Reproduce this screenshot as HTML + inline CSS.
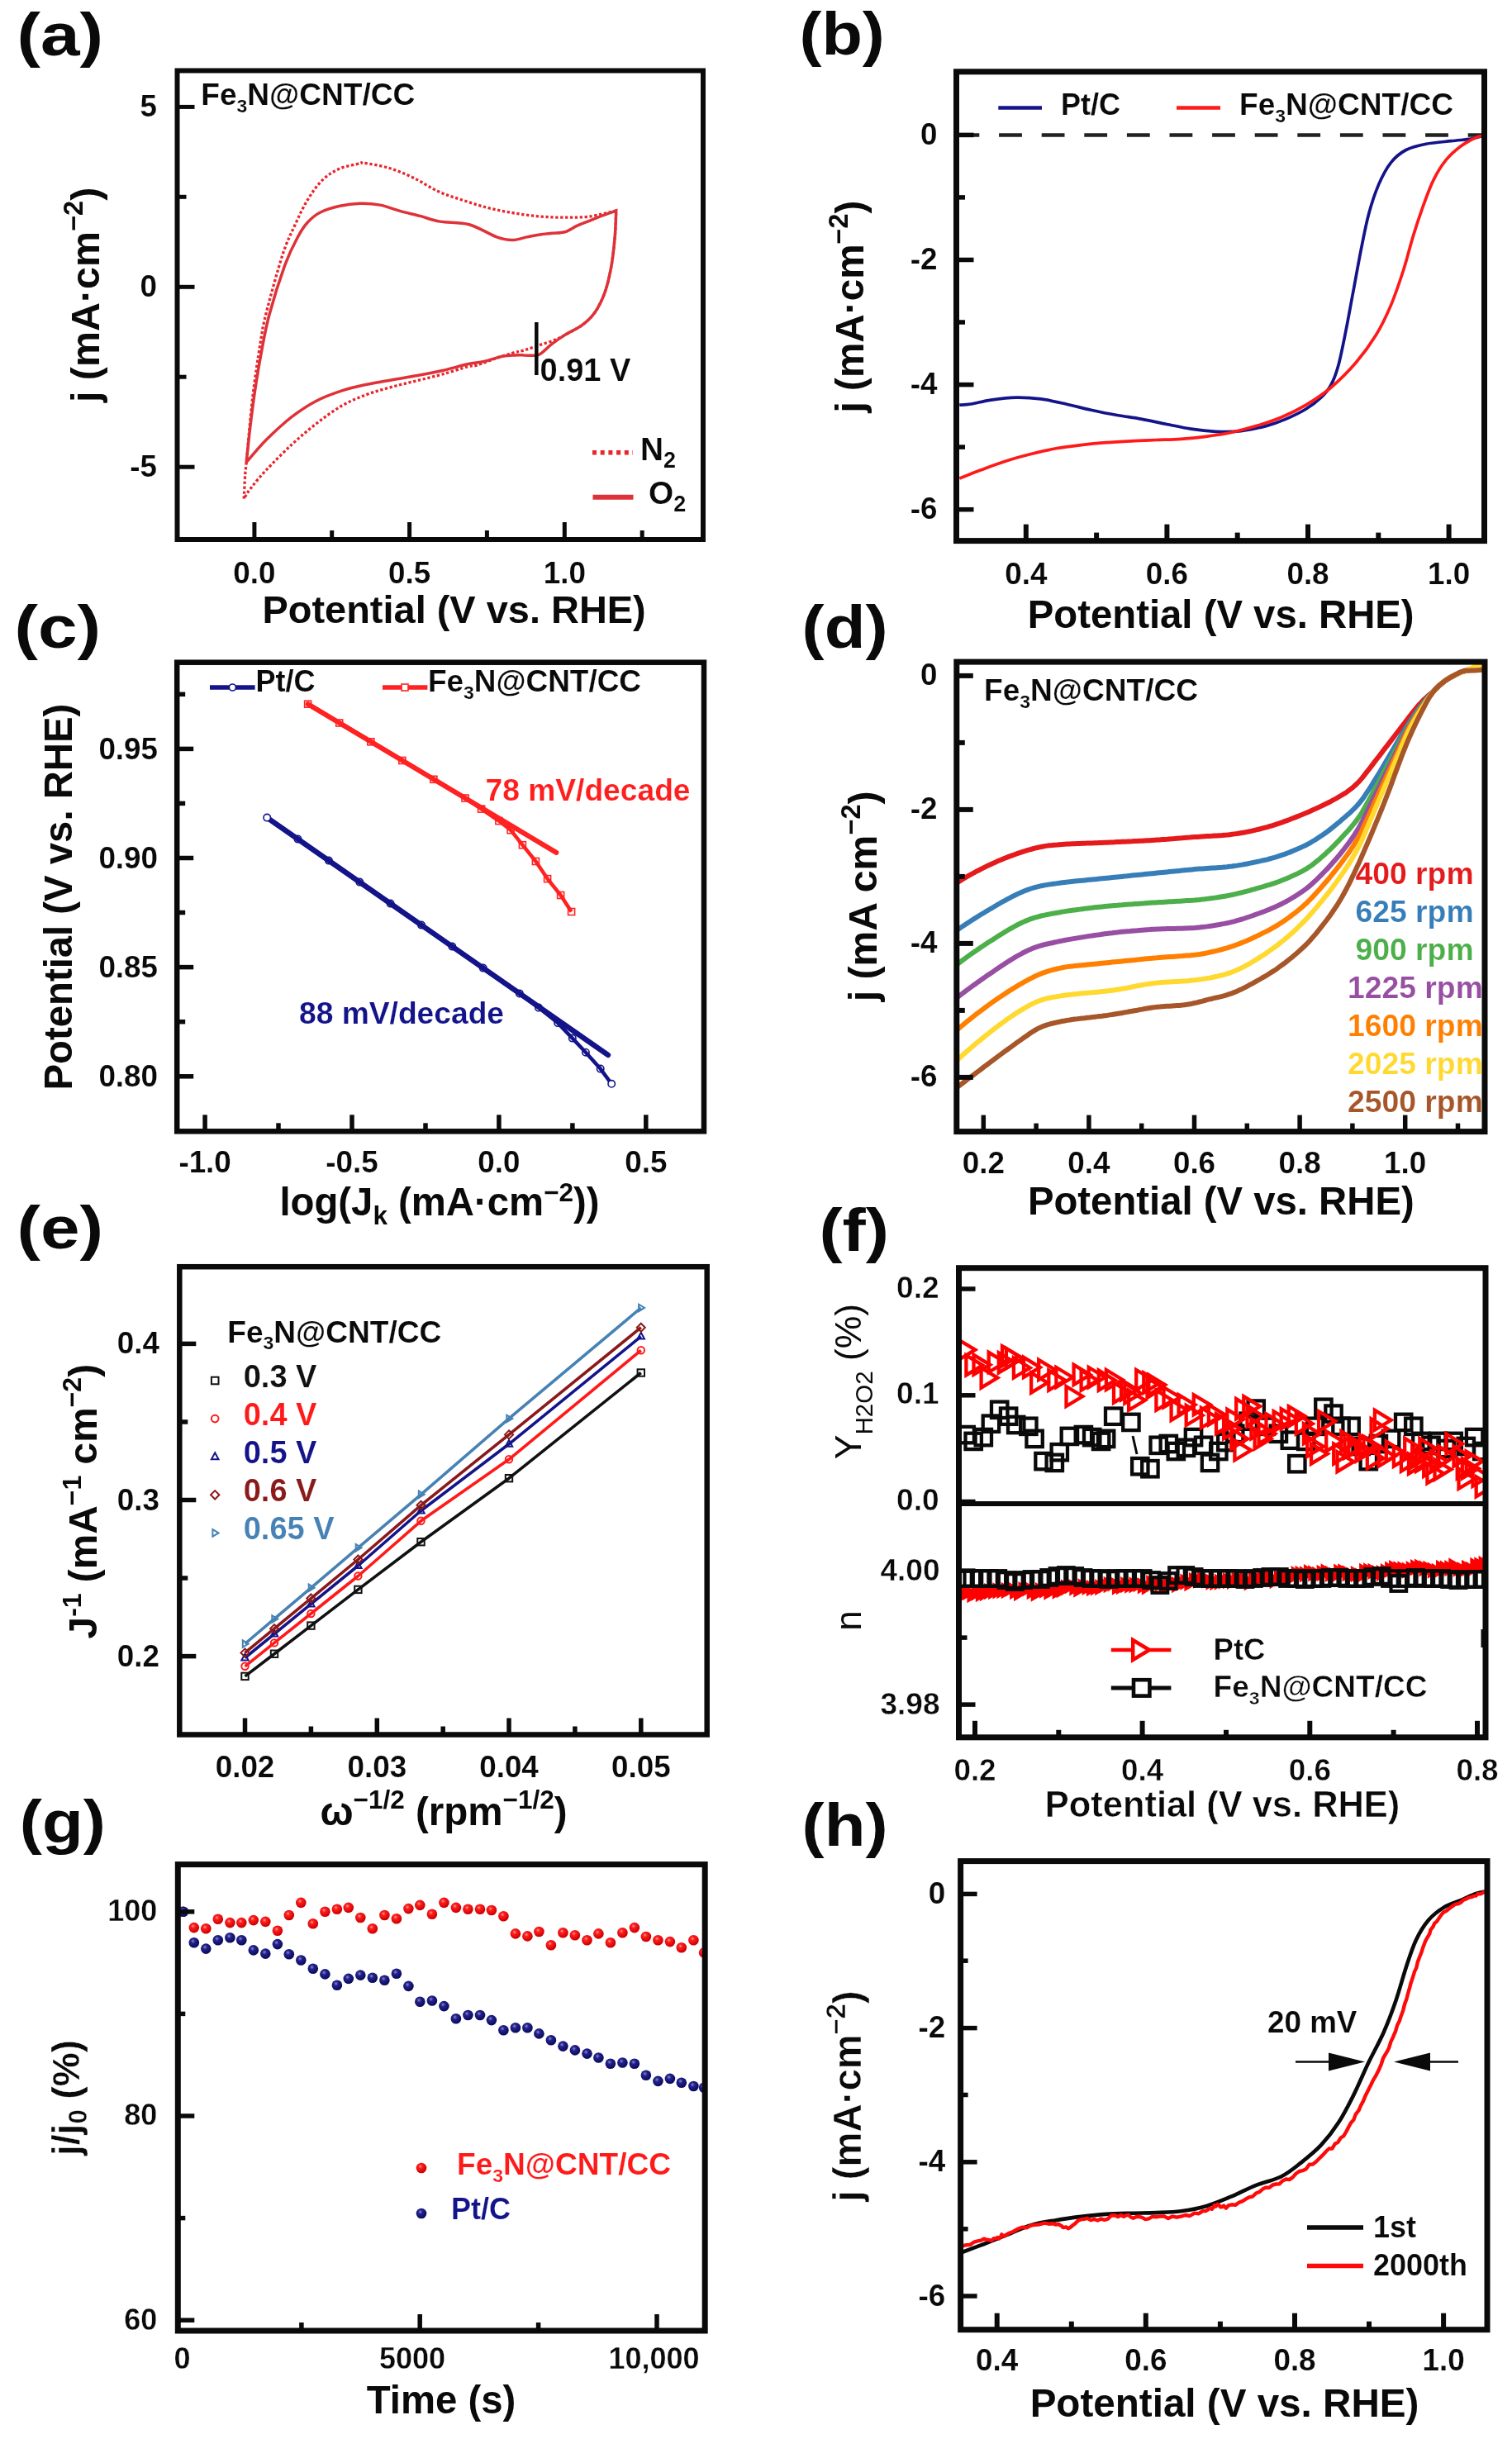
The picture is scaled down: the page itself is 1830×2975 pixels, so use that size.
<!DOCTYPE html>
<html><head><meta charset="utf-8"><title>Figure</title>
<style>
html,body{margin:0;padding:0;background:#fff;}
svg{display:block;filter:blur(0.75px);}
svg text{font-family:"Liberation Sans",sans-serif;font-weight:bold;}
</style></head><body>
<svg width="1830" height="2975" viewBox="0 0 1830 2975">
<defs>
<radialGradient id="gr" cx="0.4" cy="0.35" r="0.6"><stop offset="0" stop-color="#ffa0a0"/><stop offset="0.3" stop-color="#ff2020"/><stop offset="1" stop-color="#d00000"/></radialGradient>
<radialGradient id="gb" cx="0.4" cy="0.35" r="0.6"><stop offset="0" stop-color="#8a8ad0"/><stop offset="0.35" stop-color="#22228c"/><stop offset="1" stop-color="#0c0c60"/></radialGradient>
</defs>
<rect width="1830" height="2975" fill="#fff"/>
<text x="20.6" y="66.8" font-size="72" text-anchor="start" fill="#0a0a0a" textLength="104.5" lengthAdjust="spacingAndGlyphs" >(a)</text>
<path d="M295.2 603.6 C295.4 598.8 296.2 582.1 296.7 574.7 C297.2 567.4 296.7 575.2 298.2 559.5 C299.7 543.8 303 504.2 305.8 480.4 C308.6 456.6 312.2 433.2 314.9 416.5 C317.6 399.8 317.4 398 321.9 380 C326.4 362 336.1 326.6 341.9 308.6 C347.8 290.7 352 283.4 357 272.3 C362.1 261.2 366.6 251.1 372.2 242.1 C377.7 233 383.8 224.2 390.3 217.9 C396.9 211.5 403.9 207.3 411.5 203.9 C419.1 200.6 431 199 435.7 197.9 C440.5 196.8 434.2 196.3 440 197.2 C445.8 198 460.3 200.2 470.4 203.2 C480.6 206.3 490.7 210.6 500.8 215.4 C511 220.2 521.1 227.6 531.3 232.1 C541.4 236.7 551.6 239.5 561.7 242.8 C571.8 246.1 582 249.4 592.1 251.9 C602.3 254.5 612.4 256.3 622.5 258 C632.7 259.7 642.8 261.1 653 262 C663.1 262.8 673.2 263.2 683.4 263.2 C693.5 263.2 703.4 263.3 713.8 262 C724.2 260.6 740.4 256.1 745.7 255 L745.7 255 C745.5 260.3 745.2 275.5 744.2 286.9 C743.2 298.3 741.7 312.3 739.7 323.4 C737.6 334.6 735.4 344.7 732.1 353.8 C728.8 363 724.5 371.6 719.9 378.2 C715.3 384.8 710.8 388.8 704.7 393.4 C698.6 397.9 689 402.5 683.4 405.6 C677.8 408.6 676.3 409.6 671.2 411.6 C666.1 413.7 659 415.7 653 417.7 C646.9 419.7 640.3 422.2 634.7 423.8 C629.1 425.4 625.6 425.7 619.5 427.5 C613.4 429.2 605.3 432 598.2 434.5 C591.1 436.9 582.3 440.5 576.9 442.1 C571.5 443.6 572.8 442.1 565.9 443.9 C559 445.7 545.6 450.2 535.5 453 C525.4 455.8 515.2 458.1 505.1 460.6 C494.9 463.2 484.8 465.4 474.7 468.2 C464.5 471 454.4 473.6 444.2 477.4 C434.1 481.2 423.9 485.2 413.8 491 C403.7 496.9 393.5 504.5 383.4 512.3 C373.2 520.2 363.1 528.8 353 538.2 C342.8 547.6 330.7 560 322.5 568.6 C314.4 577.2 308.8 584.1 304.3 589.9 C299.7 595.7 296.7 601.3 295.2 603.6" fill="none" stroke="#e8262c" stroke-width="3.3" stroke-dasharray="3.3 2.6" stroke-linejoin="miter"/>
<path d="M298.2 559.5 C299 552.4 301 531.6 302.8 516.9 C304.5 502.2 306.6 486.5 308.8 471.3 C311.1 456.1 313.6 440.8 316.5 425.6 C319.3 410.4 321.4 397.5 326.2 380 C330.9 362.5 339.3 336.2 344.9 320.7 C350.6 305.3 355.5 296 360.1 287.5 C364.6 278.9 367.6 274.3 372.2 269.3 C376.7 264.3 380.7 260.5 387.3 257.2 C393.9 253.9 403.4 251.1 411.5 249.3 C419.6 247.5 427.6 246.5 435.7 246.3 C443.8 246.1 451.9 246.6 459.9 248.1 C468 249.6 476.1 253.2 484.1 255.4 C492.2 257.6 500.3 259.3 508.3 261.4 C516.4 263.5 522.6 266.4 532.5 268.1 C542.4 269.8 556.3 268.6 567.8 271.7 C579.2 274.8 592.6 283.8 601.2 286.9 C609.9 290 613.4 290.6 619.5 290.6 C625.6 290.6 632.2 288 637.7 286.9 C643.3 285.8 647.9 284.6 653 283.9 C658 283.1 663.1 282.8 668.2 282.3 C673.2 281.8 678.3 282.3 683.4 280.8 C688.5 279.3 693.5 275.5 698.6 273.2 C703.7 270.9 708.7 269.2 713.8 267.1 C718.9 265.1 723.7 263.1 729 261 C734.3 259 743 256 745.7 255 L745.7 255 C745.5 260.3 745.2 275.5 744.2 286.9 C743.2 298.3 741.7 312.3 739.7 323.4 C737.6 334.6 735.4 344.7 732.1 353.8 C728.8 363 724.5 371.6 719.9 378.2 C715.3 384.8 710.8 388.8 704.7 393.4 C698.6 397.9 689.5 401.7 683.4 405.6 C677.3 409.4 672.7 412.7 668.2 416.2 C663.6 419.7 659.1 424.5 656 426.8 C652.9 429.2 652.9 429.7 649.3 430.2 C645.8 430.7 639.2 429.9 634.7 429.9 C630.2 429.8 627.1 429.6 622.5 429.9 C618 430.1 613.4 430.1 607.3 431.4 C601.2 432.7 592.9 435.9 586 437.5 C579.1 439.1 574.3 439 565.9 440.8 C557.5 442.7 545.6 446.2 535.5 448.5 C525.4 450.7 515.2 452.7 505.1 454.5 C494.9 456.4 484.8 457.9 474.7 459.7 C464.5 461.5 454.4 463 444.2 465.2 C434.1 467.4 423.9 469.5 413.8 472.8 C403.7 476.1 393.5 479.6 383.4 485 C373.2 490.3 363.1 496.9 353 504.7 C342.8 512.6 331.7 523 322.5 532.1 C313.4 541.2 302.3 554.9 298.2 559.5" fill="none" stroke="#de3238" stroke-width="3.5" stroke-linejoin="miter"/>
<rect x="214.5" y="85.5" width="636.5" height="567.5" fill="none" stroke="#0a0a0a" stroke-width="6"/>
<line x1="307.9" y1="653" x2="307.9" y2="632" stroke="#0a0a0a" stroke-width="5"/>
<line x1="495.6" y1="653" x2="495.6" y2="632" stroke="#0a0a0a" stroke-width="5"/>
<line x1="683.3" y1="653" x2="683.3" y2="632" stroke="#0a0a0a" stroke-width="5"/>
<line x1="401.7" y1="653" x2="401.7" y2="642" stroke="#0a0a0a" stroke-width="5"/>
<line x1="589.4" y1="653" x2="589.4" y2="642" stroke="#0a0a0a" stroke-width="5"/>
<line x1="777.2" y1="653" x2="777.2" y2="642" stroke="#0a0a0a" stroke-width="5"/>
<line x1="214.5" y1="129.4" x2="235.5" y2="129.4" stroke="#0a0a0a" stroke-width="5"/>
<line x1="214.5" y1="347.3" x2="235.5" y2="347.3" stroke="#0a0a0a" stroke-width="5"/>
<line x1="214.5" y1="565.2" x2="235.5" y2="565.2" stroke="#0a0a0a" stroke-width="5"/>
<line x1="214.5" y1="238.3" x2="225.5" y2="238.3" stroke="#0a0a0a" stroke-width="5"/>
<line x1="214.5" y1="456.2" x2="225.5" y2="456.2" stroke="#0a0a0a" stroke-width="5"/>
<text x="307.9" y="705.5" font-size="36.8" text-anchor="middle" fill="#0a0a0a" stroke="#fff" stroke-width="0.15">0.0</text>
<text x="495.6" y="705.5" font-size="36.8" text-anchor="middle" fill="#0a0a0a" stroke="#fff" stroke-width="0.15">0.5</text>
<text x="683.3" y="705.5" font-size="36.8" text-anchor="middle" fill="#0a0a0a" stroke="#fff" stroke-width="0.15">1.0</text>
<text x="190" y="140.7" font-size="36.8" text-anchor="end" fill="#0a0a0a" stroke="#fff" stroke-width="0.15">5</text>
<text x="190" y="358.6" font-size="36.8" text-anchor="end" fill="#0a0a0a" stroke="#fff" stroke-width="0.15">0</text>
<text x="190" y="576.5" font-size="36.8" text-anchor="end" fill="#0a0a0a" stroke="#fff" stroke-width="0.15">-5</text>
<text x="549.6" y="753.5" font-size="46.95" text-anchor="middle" fill="#0a0a0a" >Potential (V vs. RHE)</text>
<text transform="translate(120 356.9) rotate(-90)" font-size="48.4" text-anchor="middle" fill="#0a0a0a">j (mA·cm<tspan font-size="32.6" dy="-19.6">−2</tspan><tspan dy="19.6">)</tspan></text>
<text x="243.3" y="127.2" font-size="36.3" text-anchor="start" fill="#0a0a0a" textLength="259" lengthAdjust="spacingAndGlyphs" stroke="#fff" stroke-width="0.15">Fe<tspan font-size="22.5" dy="8.7">3</tspan><tspan dy="-8.7">N@CNT/CC</tspan></text>
<line x1="649.3" y1="390" x2="649.3" y2="454" stroke="#0a0a0a" stroke-width="4.5"/>
<text x="653.5" y="460.5" font-size="38" text-anchor="start" fill="#0a0a0a" stroke="#fff" stroke-width="0.15">0.91 V</text>
<line x1="717" y1="547.8" x2="766" y2="547.8" stroke="#e8262c" stroke-width="5.5" stroke-dasharray="5 4.7"/>
<line x1="717.5" y1="601.7" x2="766.5" y2="601.7" stroke="#de3238" stroke-width="6"/>
<text x="775" y="556.7" font-size="38.8" text-anchor="start" fill="#0a0a0a" stroke="#fff" stroke-width="0.15">N<tspan font-size="27" dy="9">2</tspan></text>
<text x="785" y="610.3" font-size="38.8" text-anchor="start" fill="#0a0a0a" stroke="#fff" stroke-width="0.15">O<tspan font-size="27" dy="9">2</tspan></text>
<text x="967.5" y="65.8" font-size="72" text-anchor="start" fill="#0a0a0a" textLength="103.3" lengthAdjust="spacingAndGlyphs" >(b)</text>
<line x1="1157.5" y1="163.4" x2="1796.5" y2="163.4" stroke="#222" stroke-width="4.5" stroke-dasharray="27.8 23.8"/>
<path d="M1161.3 490.2 C1163.6 490 1168.9 490 1175.2 489 C1181.6 488 1190.3 485.4 1199.4 484.1 C1208.5 482.8 1219.6 481.3 1229.7 481.1 C1239.8 480.9 1249.9 481.6 1259.9 482.9 C1270 484.2 1280.1 486.7 1290.2 489 C1300.3 491.2 1310.4 494 1320.5 496.2 C1330.5 498.4 1340.6 500.5 1350.7 502.3 C1360.8 504.1 1370.9 505.3 1381 507.1 C1391.1 508.9 1401.1 511.2 1411.2 513.2 C1421.3 515.2 1431.4 517.7 1441.5 519.2 C1451.6 520.7 1461.7 521.8 1471.7 522.3 C1481.8 522.7 1491.9 522.8 1502 521.6 C1512.1 520.5 1523.2 518 1532.3 515.6 C1541.3 513.2 1548.4 510.6 1556.5 507.1 C1564.5 503.7 1573.6 499.4 1580.7 495 C1587.7 490.7 1593.8 485.9 1598.8 481.1 C1603.9 476.3 1607.4 472.5 1610.9 466 C1614.5 459.4 1617 452.9 1620 441.8 C1623 430.7 1626.1 414.5 1629.1 399.4 C1632.1 384.3 1635.1 367.1 1638.2 351 C1641.2 334.9 1644.2 317.7 1647.2 302.6 C1650.3 287.5 1652.8 273.3 1656.3 260.2 C1659.8 247.1 1663.9 234.5 1668.4 223.9 C1673 213.3 1678 203.7 1683.6 196.7 C1689.1 189.6 1694.6 185.3 1701.7 181.5 C1708.8 177.8 1716.8 176.1 1725.9 174.3 C1735 172.5 1747.1 171.7 1756.2 170.7 C1765.2 169.6 1774.1 169.2 1780.4 168.2 C1786.6 167.2 1791.5 165.2 1793.7 164.6" fill="none" stroke="#14148a" stroke-width="3.7" />
<path d="M1161.3 579.1 C1165.6 577.4 1177.9 572.4 1187.3 568.8 C1196.7 565.3 1207.5 561.2 1217.6 558 C1227.7 554.7 1237.8 552 1247.8 549.5 C1257.9 547 1268 544.6 1278.1 542.8 C1288.2 541 1298.3 539.8 1308.4 538.6 C1318.4 537.4 1328.5 536.4 1338.6 535.6 C1348.7 534.8 1358.8 534.3 1368.9 533.8 C1379 533.2 1389 532.9 1399.1 532.5 C1409.2 532.1 1419.3 532 1429.4 531.3 C1439.5 530.6 1449.6 529.6 1459.6 528.3 C1469.7 527 1479.8 525.6 1489.9 523.5 C1500 521.3 1510.1 518.6 1520.2 515.6 C1530.2 512.6 1540.3 509.5 1550.4 505.3 C1560.5 501.1 1570.6 496.2 1580.7 490.2 C1590.8 484.1 1600.8 477.6 1610.9 469 C1621 460.4 1632.1 449.3 1641.2 438.7 C1650.3 428.1 1658.3 417.1 1665.4 405.5 C1672.5 393.9 1678 382.3 1683.6 369.1 C1689.1 356 1694.1 340.9 1698.7 326.8 C1703.2 312.7 1706.7 297.5 1710.8 284.4 C1714.8 271.3 1718.9 259.2 1722.9 248.1 C1726.9 237 1730.5 226.9 1735 217.9 C1739.5 208.8 1744.6 200.5 1750.1 193.7 C1755.7 186.8 1762.2 181.2 1768.3 176.7 C1774.3 172.2 1782.2 168.4 1786.4 166.4 C1790.7 164.4 1792.5 164.9 1793.7 164.6" fill="none" stroke="#ff1a1a" stroke-width="3.7" />
<rect x="1157.5" y="86.8" width="639" height="567.8" fill="none" stroke="#0a0a0a" stroke-width="7"/>
<line x1="1241.8" y1="654.6" x2="1241.8" y2="634.6" stroke="#0a0a0a" stroke-width="6"/>
<line x1="1412.4" y1="654.6" x2="1412.4" y2="634.6" stroke="#0a0a0a" stroke-width="6"/>
<line x1="1583" y1="654.6" x2="1583" y2="634.6" stroke="#0a0a0a" stroke-width="6"/>
<line x1="1753.6" y1="654.6" x2="1753.6" y2="634.6" stroke="#0a0a0a" stroke-width="6"/>
<line x1="1327.1" y1="654.6" x2="1327.1" y2="644.6" stroke="#0a0a0a" stroke-width="6"/>
<line x1="1497.7" y1="654.6" x2="1497.7" y2="644.6" stroke="#0a0a0a" stroke-width="6"/>
<line x1="1668.3" y1="654.6" x2="1668.3" y2="644.6" stroke="#0a0a0a" stroke-width="6"/>
<line x1="1157.5" y1="163.4" x2="1178.5" y2="163.4" stroke="#0a0a0a" stroke-width="5.5"/>
<line x1="1157.5" y1="314.5" x2="1178.5" y2="314.5" stroke="#0a0a0a" stroke-width="5.5"/>
<line x1="1157.5" y1="465.6" x2="1178.5" y2="465.6" stroke="#0a0a0a" stroke-width="5.5"/>
<line x1="1157.5" y1="616.7" x2="1178.5" y2="616.7" stroke="#0a0a0a" stroke-width="5.5"/>
<line x1="1157.5" y1="238.9" x2="1168" y2="238.9" stroke="#0a0a0a" stroke-width="5.5"/>
<line x1="1157.5" y1="390" x2="1168" y2="390" stroke="#0a0a0a" stroke-width="5.5"/>
<line x1="1157.5" y1="541.1" x2="1168" y2="541.1" stroke="#0a0a0a" stroke-width="5.5"/>
<text x="1241.8" y="706.5" font-size="36.8" text-anchor="middle" fill="#0a0a0a" stroke="#fff" stroke-width="0.15">0.4</text>
<text x="1412.4" y="706.5" font-size="36.8" text-anchor="middle" fill="#0a0a0a" stroke="#fff" stroke-width="0.15">0.6</text>
<text x="1583" y="706.5" font-size="36.8" text-anchor="middle" fill="#0a0a0a" stroke="#fff" stroke-width="0.15">0.8</text>
<text x="1753.6" y="706.5" font-size="36.8" text-anchor="middle" fill="#0a0a0a" stroke="#fff" stroke-width="0.15">1.0</text>
<text x="1134.5" y="174.9" font-size="36.8" text-anchor="end" fill="#0a0a0a" stroke="#fff" stroke-width="0.15">0</text>
<text x="1134.5" y="326" font-size="36.8" text-anchor="end" fill="#0a0a0a" stroke="#fff" stroke-width="0.15">-2</text>
<text x="1134.5" y="477.1" font-size="36.8" text-anchor="end" fill="#0a0a0a" stroke="#fff" stroke-width="0.15">-4</text>
<text x="1134.5" y="628.2" font-size="36.8" text-anchor="end" fill="#0a0a0a" stroke="#fff" stroke-width="0.15">-6</text>
<text x="1477.7" y="760" font-size="47.3" text-anchor="middle" fill="#0a0a0a" >Potential (V vs. RHE)</text>
<text transform="translate(1045.2 371) rotate(-90)" font-size="47.7" text-anchor="middle" fill="#0a0a0a">j (mA·cm<tspan font-size="32.4" dy="-19.5">−2</tspan><tspan dy="19.5">)</tspan></text>
<line x1="1208.3" y1="130.4" x2="1261" y2="130.4" stroke="#14148a" stroke-width="4.5"/>
<line x1="1424" y1="130.4" x2="1477" y2="130.4" stroke="#ff1a1a" stroke-width="4.5"/>
<text x="1284" y="139" font-size="36" text-anchor="start" fill="#0a0a0a" stroke="#fff" stroke-width="0.15">Pt/C</text>
<text x="1500" y="139" font-size="36.3" text-anchor="start" fill="#0a0a0a" textLength="259" lengthAdjust="spacingAndGlyphs" stroke="#fff" stroke-width="0.15">Fe<tspan font-size="22.5" dy="8.7">3</tspan><tspan dy="-8.7">N@CNT/CC</tspan></text>
<text x="17.6" y="783.8" font-size="72" text-anchor="start" fill="#0a0a0a" textLength="104.5" lengthAdjust="spacingAndGlyphs" >(c)</text>
<path d="M372.6 852.2 L673.3 1031.9" fill="none" stroke="#ff2222" stroke-width="6" stroke-linecap="round"/>
<path d="M372.6 852.2 L410.7 875 L448.8 897.8 L486.8 920.5 L524.9 943.3 L563 966 L582.6 979.1 L603.9 993.6 L618.1 1004.7 L632.4 1022.7 L648.4 1042.5 L662.6 1063.6 L678.6 1083.5 L691.6 1103.5" fill="none" stroke="#ff2222" stroke-width="4.5" stroke-linejoin="round"/>
<rect x="368.6" y="848.2" width="8" height="8" fill="none" stroke="#ff2222" stroke-width="1.6"/>
<rect x="406.7" y="871" width="8" height="8" fill="none" stroke="#ff2222" stroke-width="1.6"/>
<rect x="444.8" y="893.8" width="8" height="8" fill="none" stroke="#ff2222" stroke-width="1.6"/>
<rect x="482.8" y="916.5" width="8" height="8" fill="none" stroke="#ff2222" stroke-width="1.6"/>
<rect x="520.9" y="939.3" width="8" height="8" fill="none" stroke="#ff2222" stroke-width="1.6"/>
<rect x="559" y="962" width="8" height="8" fill="none" stroke="#ff2222" stroke-width="1.6"/>
<rect x="578.6" y="975.1" width="8" height="8" fill="none" stroke="#ff2222" stroke-width="1.6"/>
<rect x="599.9" y="989.6" width="8" height="8" fill="none" stroke="#ff2222" stroke-width="1.6"/>
<rect x="614.1" y="1000.7" width="8" height="8" fill="none" stroke="#ff2222" stroke-width="1.6"/>
<rect x="628.4" y="1018.7" width="8" height="8" fill="none" stroke="#ff2222" stroke-width="1.6"/>
<rect x="644.4" y="1038.5" width="8" height="8" fill="none" stroke="#ff2222" stroke-width="1.6"/>
<rect x="658.6" y="1059.6" width="8" height="8" fill="none" stroke="#ff2222" stroke-width="1.6"/>
<rect x="674.6" y="1079.5" width="8" height="8" fill="none" stroke="#ff2222" stroke-width="1.6"/>
<rect x="687.6" y="1099.5" width="8" height="8" fill="none" stroke="#ff2222" stroke-width="1.6"/>
<path d="M323.2 989.6 L735.9 1276.9" fill="none" stroke="#14148a" stroke-width="6.5" stroke-linecap="round"/>
<path d="M323.2 989.6 L360.5 1015.6 L397.9 1041.6 L435.3 1067.6 L472.6 1093.6 L510 1119.6 L547.3 1145.6 L584.7 1171.6 L628.8 1202.4 L651.9 1219.6 L675.1 1238.1 L692.8 1256.6 L708.9 1273.7 L726.7 1293.6 L740.2 1311.8" fill="none" stroke="#14148a" stroke-width="4.5" stroke-linejoin="round"/>
<circle cx="323.2" cy="989.6" r="4.2" fill="#fff" stroke="#14148a" stroke-width="1.6"/>
<circle cx="360.5" cy="1015.6" r="4.2" fill="none" stroke="#14148a" stroke-width="1.6"/>
<circle cx="397.9" cy="1041.6" r="4.2" fill="none" stroke="#14148a" stroke-width="1.6"/>
<circle cx="435.3" cy="1067.6" r="4.2" fill="none" stroke="#14148a" stroke-width="1.6"/>
<circle cx="472.6" cy="1093.6" r="4.2" fill="none" stroke="#14148a" stroke-width="1.6"/>
<circle cx="510" cy="1119.6" r="4.2" fill="none" stroke="#14148a" stroke-width="1.6"/>
<circle cx="547.3" cy="1145.6" r="4.2" fill="none" stroke="#14148a" stroke-width="1.6"/>
<circle cx="584.7" cy="1171.6" r="4.2" fill="none" stroke="#14148a" stroke-width="1.6"/>
<circle cx="628.8" cy="1202.4" r="4.2" fill="none" stroke="#14148a" stroke-width="1.6"/>
<circle cx="651.9" cy="1219.6" r="4.2" fill="none" stroke="#14148a" stroke-width="1.6"/>
<circle cx="675.1" cy="1238.1" r="4.2" fill="none" stroke="#14148a" stroke-width="1.6"/>
<circle cx="692.8" cy="1256.6" r="4.2" fill="none" stroke="#14148a" stroke-width="1.6"/>
<circle cx="708.9" cy="1273.7" r="4.2" fill="none" stroke="#14148a" stroke-width="1.6"/>
<circle cx="726.7" cy="1293.6" r="4.2" fill="none" stroke="#14148a" stroke-width="1.6"/>
<circle cx="740.2" cy="1311.8" r="4.2" fill="#fff" stroke="#14148a" stroke-width="1.6"/>
<rect x="214.2" y="801.7" width="637.8" height="567.6" fill="none" stroke="#0a0a0a" stroke-width="6.5"/>
<line x1="248.1" y1="1369.3" x2="248.1" y2="1349.3" stroke="#0a0a0a" stroke-width="5.5"/>
<line x1="426" y1="1369.3" x2="426" y2="1349.3" stroke="#0a0a0a" stroke-width="5.5"/>
<line x1="603.9" y1="1369.3" x2="603.9" y2="1349.3" stroke="#0a0a0a" stroke-width="5.5"/>
<line x1="781.8" y1="1369.3" x2="781.8" y2="1349.3" stroke="#0a0a0a" stroke-width="5.5"/>
<line x1="337" y1="1369.3" x2="337" y2="1359.3" stroke="#0a0a0a" stroke-width="5.5"/>
<line x1="515" y1="1369.3" x2="515" y2="1359.3" stroke="#0a0a0a" stroke-width="5.5"/>
<line x1="692.9" y1="1369.3" x2="692.9" y2="1359.3" stroke="#0a0a0a" stroke-width="5.5"/>
<line x1="214.2" y1="906.4" x2="234.2" y2="906.4" stroke="#0a0a0a" stroke-width="5.5"/>
<line x1="214.2" y1="1038.5" x2="234.2" y2="1038.5" stroke="#0a0a0a" stroke-width="5.5"/>
<line x1="214.2" y1="1170.6" x2="234.2" y2="1170.6" stroke="#0a0a0a" stroke-width="5.5"/>
<line x1="214.2" y1="1302.8" x2="234.2" y2="1302.8" stroke="#0a0a0a" stroke-width="5.5"/>
<line x1="214.2" y1="840.3" x2="224.2" y2="840.3" stroke="#0a0a0a" stroke-width="5.5"/>
<line x1="214.2" y1="972.4" x2="224.2" y2="972.4" stroke="#0a0a0a" stroke-width="5.5"/>
<line x1="214.2" y1="1104.5" x2="224.2" y2="1104.5" stroke="#0a0a0a" stroke-width="5.5"/>
<line x1="214.2" y1="1236.7" x2="224.2" y2="1236.7" stroke="#0a0a0a" stroke-width="5.5"/>
<text x="248.1" y="1419.3" font-size="36.8" text-anchor="middle" fill="#0a0a0a" stroke="#fff" stroke-width="0.15">-1.0</text>
<text x="426" y="1419.3" font-size="36.8" text-anchor="middle" fill="#0a0a0a" stroke="#fff" stroke-width="0.15">-0.5</text>
<text x="603.9" y="1419.3" font-size="36.8" text-anchor="middle" fill="#0a0a0a" stroke="#fff" stroke-width="0.15">0.0</text>
<text x="781.8" y="1419.3" font-size="36.8" text-anchor="middle" fill="#0a0a0a" stroke="#fff" stroke-width="0.15">0.5</text>
<text x="191" y="918.7" font-size="36.8" text-anchor="end" fill="#0a0a0a" stroke="#fff" stroke-width="0.15">0.95</text>
<text x="191" y="1050.8" font-size="36.8" text-anchor="end" fill="#0a0a0a" stroke="#fff" stroke-width="0.15">0.90</text>
<text x="191" y="1182.9" font-size="36.8" text-anchor="end" fill="#0a0a0a" stroke="#fff" stroke-width="0.15">0.85</text>
<text x="191" y="1315.1" font-size="36.8" text-anchor="end" fill="#0a0a0a" stroke="#fff" stroke-width="0.15">0.80</text>
<text x="532" y="1471.3" font-size="47.3" text-anchor="middle" fill="#0a0a0a" >log(J<tspan font-size="31.5" dy="11">k</tspan><tspan dy="-11"> (mA·cm</tspan><tspan font-size="31.5" dy="-17.5">−2</tspan><tspan dy="17.5">))</tspan></text>
<text transform="translate(87.3 1085.6) rotate(-90)" font-size="47.3" text-anchor="middle" fill="#0a0a0a">Potential (V vs. RHE)</text>
<line x1="254" y1="832" x2="308.6" y2="832" stroke="#14148a" stroke-width="5.5"/>
<circle cx="281.4" cy="832" r="4" fill="#fff" stroke="#14148a" stroke-width="1.6"/>
<line x1="463" y1="832" x2="517.4" y2="832" stroke="#ff2222" stroke-width="5.5"/>
<rect x="486" y="828" width="8" height="8" fill="#fff" stroke="#ff2222" stroke-width="1.6"/>
<text x="309.5" y="837" font-size="36" text-anchor="start" fill="#0a0a0a" stroke="#fff" stroke-width="0.15">Pt/C</text>
<text x="518" y="837" font-size="36.3" text-anchor="start" fill="#0a0a0a" textLength="258" lengthAdjust="spacingAndGlyphs" stroke="#fff" stroke-width="0.15">Fe<tspan font-size="22.5" dy="8.7">3</tspan><tspan dy="-8.7">N@CNT/CC</tspan></text>
<text x="587.5" y="968.7" font-size="37.2" text-anchor="start" fill="#ff1e1e" stroke="#fff" stroke-width="0.15">78 mV/decade</text>
<text x="362" y="1239.2" font-size="37.2" text-anchor="start" fill="#14148a" stroke="#fff" stroke-width="0.15">88 mV/decade</text>
<text x="970.6" y="783.8" font-size="72" text-anchor="start" fill="#0a0a0a" textLength="104" lengthAdjust="spacingAndGlyphs" >(d)</text>
<path d="M1158.5 1068.2 L1161.6 1066.4 L1164.6 1064.5 L1167.6 1062.7 L1170.6 1060.9 L1173.7 1059.2 L1176.7 1057.5 L1179.7 1055.8 L1182.7 1054.2 L1185.8 1052.7 L1188.8 1051.1 L1191.8 1049.6 L1194.8 1048.1 L1197.9 1046.7 L1200.9 1045.3 L1203.9 1044 L1206.9 1042.6 L1209.9 1041.3 L1213 1040.1 L1216 1038.8 L1219 1037.6 L1222 1036.4 L1225.1 1035.3 L1228.1 1034.2 L1231.1 1033.1 L1234.1 1032.1 L1237.2 1031.1 L1240.2 1030.1 L1243.2 1029.2 L1246.2 1028.4 L1249.3 1027.5 L1252.3 1026.7 L1255.3 1026 L1258.3 1025.3 L1261.4 1024.7 L1264.4 1024.1 L1267.4 1023.6 L1270.4 1023.2 L1273.4 1023 L1276.5 1022.7 L1279.5 1022.5 L1282.5 1022.2 L1285.5 1022 L1288.6 1021.8 L1291.6 1021.6 L1294.6 1021.5 L1297.6 1021.3 L1300.7 1021.2 L1303.7 1021.1 L1306.7 1021 L1309.7 1020.8 L1312.8 1020.7 L1315.8 1020.6 L1318.8 1020.5 L1321.8 1020.4 L1324.9 1020.3 L1327.9 1020.2 L1330.9 1020 L1333.9 1019.9 L1336.9 1019.8 L1340 1019.7 L1343 1019.5 L1346 1019.4 L1349 1019.3 L1352.1 1019.1 L1355.1 1019 L1358.1 1018.8 L1361.1 1018.7 L1364.2 1018.6 L1367.2 1018.4 L1370.2 1018.3 L1373.2 1018.1 L1376.3 1018 L1379.3 1017.8 L1382.3 1017.7 L1385.3 1017.5 L1388.4 1017.3 L1391.4 1017.2 L1394.4 1017 L1397.4 1016.8 L1400.4 1016.6 L1403.5 1016.4 L1406.5 1016.1 L1409.5 1015.9 L1412.5 1015.7 L1415.6 1015.4 L1418.6 1015.2 L1421.6 1015 L1424.6 1014.7 L1427.7 1014.5 L1430.7 1014.3 L1433.7 1014 L1436.7 1013.8 L1439.8 1013.6 L1442.8 1013.3 L1445.8 1013.1 L1448.8 1012.9 L1451.9 1012.7 L1454.9 1012.5 L1457.9 1012.3 L1460.9 1012.1 L1463.9 1011.9 L1467 1011.8 L1470 1011.6 L1473 1011.4 L1476 1011.2 L1479.1 1011 L1482.1 1010.7 L1485.1 1010.5 L1488.1 1010.2 L1491.2 1009.8 L1494.2 1009.4 L1497.2 1009 L1500.2 1008.5 L1503.3 1008 L1506.3 1007.5 L1509.3 1006.9 L1512.3 1006.3 L1515.3 1005.6 L1518.4 1004.9 L1521.4 1004.2 L1524.4 1003.5 L1527.4 1002.7 L1530.5 1001.9 L1533.5 1001.1 L1536.5 1000.2 L1539.5 999.3 L1542.6 998.3 L1545.6 997.3 L1548.6 996.3 L1551.6 995.3 L1554.7 994.2 L1557.7 993.1 L1560.7 992 L1563.7 990.8 L1566.8 989.6 L1569.8 988.4 L1572.8 987.2 L1575.8 986 L1578.8 984.8 L1581.9 983.5 L1584.9 982.2 L1587.9 980.8 L1590.9 979.4 L1594 978.1 L1597 976.6 L1600 975.2 L1603 973.8 L1606.1 972.3 L1609.1 970.8 L1612.1 969.2 L1615.1 967.5 L1618.2 965.8 L1621.2 964 L1624.2 962.2 L1627.2 960.4 L1630.3 958.4 L1633.3 956.2 L1636.3 953.9 L1639.3 951.3 L1642.3 948.5 L1645.4 945.4 L1648.4 941.9 L1651.4 938.1 L1654.4 934.2 L1657.5 930.3 L1660.5 926.4 L1663.5 922.4 L1666.5 918.5 L1669.6 914.6 L1672.6 910.6 L1675.6 906.7 L1678.6 902.8 L1681.7 898.8 L1684.7 894.9 L1687.7 891 L1690.7 887 L1693.8 883.1 L1696.8 879.2 L1699.8 875.2 L1702.8 871.3 L1705.8 867.3 L1708.9 863.4 L1711.9 859.6 L1714.9 856 L1717.9 852.5 L1721 849.2 L1724 846.2 L1727 843.5 L1730 840.8 L1733.1 838.2 L1736.1 835.6 L1739.1 832.8 L1742.1 830.1 L1745.2 827.4 L1748.2 824.7 L1751.2 822.3 L1754.2 820.4 L1757.3 818.7 L1760.3 817.3 L1763.3 815.9 L1766.3 814.5 L1769.3 813.3 L1772.4 812.1 L1775.4 811.1 L1778.4 810.2 L1781.4 809.4 L1784.5 808.7 L1787.5 808.1 L1790.5 807.8 L1793.5 807.6 L1796.6 807.6" fill="none" stroke="#e41a1c" stroke-width="6" stroke-linejoin="round"/>
<path d="M1158.5 1125.6 L1161.6 1123.5 L1164.6 1121.4 L1167.6 1119.4 L1170.6 1117.4 L1173.7 1115.4 L1176.7 1113.5 L1179.7 1111.6 L1182.7 1109.7 L1185.8 1107.8 L1188.8 1106 L1191.8 1104.2 L1194.8 1102.3 L1197.9 1100.5 L1200.9 1098.8 L1203.9 1097 L1206.9 1095.2 L1209.9 1093.5 L1213 1091.7 L1216 1090.1 L1219 1088.4 L1222 1086.8 L1225.1 1085.2 L1228.1 1083.7 L1231.1 1082.3 L1234.1 1080.9 L1237.2 1079.5 L1240.2 1078.3 L1243.2 1077.1 L1246.2 1076 L1249.3 1075 L1252.3 1074.1 L1255.3 1073.3 L1258.3 1072.6 L1261.4 1072 L1264.4 1071.4 L1267.4 1070.9 L1270.4 1070.4 L1273.4 1070 L1276.5 1069.6 L1279.5 1069.1 L1282.5 1068.7 L1285.5 1068.3 L1288.6 1067.9 L1291.6 1067.6 L1294.6 1067.2 L1297.6 1066.9 L1300.7 1066.6 L1303.7 1066.3 L1306.7 1066 L1309.7 1065.7 L1312.8 1065.4 L1315.8 1065.1 L1318.8 1064.8 L1321.8 1064.5 L1324.9 1064.2 L1327.9 1063.9 L1330.9 1063.6 L1333.9 1063.3 L1336.9 1063 L1340 1062.7 L1343 1062.4 L1346 1062.1 L1349 1061.8 L1352.1 1061.5 L1355.1 1061.2 L1358.1 1060.9 L1361.1 1060.6 L1364.2 1060.3 L1367.2 1059.9 L1370.2 1059.6 L1373.2 1059.3 L1376.3 1059 L1379.3 1058.7 L1382.3 1058.4 L1385.3 1058.1 L1388.4 1057.8 L1391.4 1057.5 L1394.4 1057.2 L1397.4 1056.9 L1400.4 1056.6 L1403.5 1056.3 L1406.5 1056 L1409.5 1055.7 L1412.5 1055.4 L1415.6 1055.1 L1418.6 1054.8 L1421.6 1054.5 L1424.6 1054.2 L1427.7 1053.9 L1430.7 1053.6 L1433.7 1053.3 L1436.7 1053 L1439.8 1052.7 L1442.8 1052.4 L1445.8 1052.1 L1448.8 1051.8 L1451.9 1051.6 L1454.9 1051.4 L1457.9 1051.2 L1460.9 1051 L1463.9 1050.8 L1467 1050.6 L1470 1050.4 L1473 1050.2 L1476 1050 L1479.1 1049.8 L1482.1 1049.5 L1485.1 1049.2 L1488.1 1048.8 L1491.2 1048.5 L1494.2 1048 L1497.2 1047.6 L1500.2 1047.1 L1503.3 1046.6 L1506.3 1046 L1509.3 1045.5 L1512.3 1044.9 L1515.3 1044.3 L1518.4 1043.6 L1521.4 1043 L1524.4 1042.4 L1527.4 1041.7 L1530.5 1041 L1533.5 1040.3 L1536.5 1039.5 L1539.5 1038.7 L1542.6 1037.8 L1545.6 1036.9 L1548.6 1035.9 L1551.6 1034.9 L1554.7 1033.9 L1557.7 1032.7 L1560.7 1031.6 L1563.7 1030.4 L1566.8 1029.1 L1569.8 1027.8 L1572.8 1026.5 L1575.8 1025.1 L1578.8 1023.7 L1581.9 1022.2 L1584.9 1020.6 L1587.9 1018.8 L1590.9 1017 L1594 1015.1 L1597 1013.1 L1600 1011.1 L1603 1009 L1606.1 1006.8 L1609.1 1004.5 L1612.1 1002.1 L1615.1 999.7 L1618.2 997.2 L1621.2 994.7 L1624.2 992.1 L1627.2 989.5 L1630.3 986.8 L1633.3 984.2 L1636.3 981.4 L1639.3 978.4 L1642.3 975.2 L1645.4 971.7 L1648.4 967.9 L1651.4 963.7 L1654.4 959.2 L1657.5 954.6 L1660.5 949.8 L1663.5 944.9 L1666.5 940 L1669.6 935 L1672.6 929.9 L1675.6 924.9 L1678.6 919.8 L1681.7 914.6 L1684.7 909.4 L1687.7 904.2 L1690.7 899 L1693.8 893.9 L1696.8 888.8 L1699.8 883.7 L1702.8 878.8 L1705.8 874.1 L1708.9 869.4 L1711.9 865 L1714.9 860.7 L1717.9 856.5 L1721 852.5 L1724 848.7 L1727 845.1 L1730 841.7 L1733.1 838.6 L1736.1 835.6 L1739.1 832.6 L1742.1 829.8 L1745.2 827.1 L1748.2 824.6 L1751.2 822.5 L1754.2 820.5 L1757.3 818.8 L1760.3 817.3 L1763.3 815.9 L1766.3 814.5 L1769.3 813.3 L1772.4 812.1 L1775.4 811.1 L1778.4 810.2 L1781.4 809.4 L1784.5 808.7 L1787.5 808.1 L1790.5 807.8 L1793.5 807.6 L1796.6 807.6" fill="none" stroke="#377eb8" stroke-width="6" stroke-linejoin="round"/>
<path d="M1158.5 1167.1 L1161.6 1164.8 L1164.6 1162.5 L1167.6 1160.3 L1170.6 1158.1 L1173.7 1155.9 L1176.7 1153.8 L1179.7 1151.7 L1182.7 1149.7 L1185.8 1147.6 L1188.8 1145.6 L1191.8 1143.6 L1194.8 1141.6 L1197.9 1139.6 L1200.9 1137.7 L1203.9 1135.7 L1206.9 1133.8 L1209.9 1131.9 L1213 1130 L1216 1128.1 L1219 1126.3 L1222 1124.5 L1225.1 1122.8 L1228.1 1121.1 L1231.1 1119.5 L1234.1 1118 L1237.2 1116.5 L1240.2 1115.1 L1243.2 1113.9 L1246.2 1112.7 L1249.3 1111.6 L1252.3 1110.6 L1255.3 1109.8 L1258.3 1109 L1261.4 1108.2 L1264.4 1107.6 L1267.4 1107 L1270.4 1106.4 L1273.4 1105.8 L1276.5 1105.3 L1279.5 1104.7 L1282.5 1104.2 L1285.5 1103.6 L1288.6 1103.1 L1291.6 1102.6 L1294.6 1102.2 L1297.6 1101.8 L1300.7 1101.4 L1303.7 1101 L1306.7 1100.6 L1309.7 1100.2 L1312.8 1099.8 L1315.8 1099.4 L1318.8 1099.1 L1321.8 1098.7 L1324.9 1098.3 L1327.9 1098 L1330.9 1097.7 L1333.9 1097.4 L1336.9 1097.1 L1340 1096.8 L1343 1096.5 L1346 1096.2 L1349 1096 L1352.1 1095.8 L1355.1 1095.5 L1358.1 1095.3 L1361.1 1095 L1364.2 1094.8 L1367.2 1094.6 L1370.2 1094.4 L1373.2 1094.1 L1376.3 1093.9 L1379.3 1093.7 L1382.3 1093.5 L1385.3 1093.3 L1388.4 1093 L1391.4 1092.8 L1394.4 1092.6 L1397.4 1092.4 L1400.4 1092.2 L1403.5 1092 L1406.5 1091.9 L1409.5 1091.7 L1412.5 1091.5 L1415.6 1091.3 L1418.6 1091.2 L1421.6 1091 L1424.6 1090.8 L1427.7 1090.7 L1430.7 1090.5 L1433.7 1090.3 L1436.7 1090.1 L1439.8 1089.9 L1442.8 1089.7 L1445.8 1089.5 L1448.8 1089.2 L1451.9 1089 L1454.9 1088.6 L1457.9 1088.3 L1460.9 1087.9 L1463.9 1087.5 L1467 1087.1 L1470 1086.6 L1473 1086.2 L1476 1085.7 L1479.1 1085.2 L1482.1 1084.7 L1485.1 1084.2 L1488.1 1083.6 L1491.2 1083 L1494.2 1082.3 L1497.2 1081.6 L1500.2 1080.9 L1503.3 1080.2 L1506.3 1079.4 L1509.3 1078.6 L1512.3 1077.8 L1515.3 1076.9 L1518.4 1076.1 L1521.4 1075.2 L1524.4 1074.4 L1527.4 1073.5 L1530.5 1072.6 L1533.5 1071.7 L1536.5 1070.8 L1539.5 1069.8 L1542.6 1068.8 L1545.6 1067.8 L1548.6 1066.7 L1551.6 1065.5 L1554.7 1064.3 L1557.7 1063.1 L1560.7 1061.8 L1563.7 1060.4 L1566.8 1059 L1569.8 1057.6 L1572.8 1056.1 L1575.8 1054.6 L1578.8 1052.9 L1581.9 1051.1 L1584.9 1049.1 L1587.9 1047 L1590.9 1044.7 L1594 1042.2 L1597 1039.7 L1600 1037.1 L1603 1034.4 L1606.1 1031.6 L1609.1 1028.8 L1612.1 1025.8 L1615.1 1022.8 L1618.2 1019.7 L1621.2 1016.6 L1624.2 1013.3 L1627.2 1010 L1630.3 1006.7 L1633.3 1003.4 L1636.3 999.9 L1639.3 996.2 L1642.3 992.3 L1645.4 988 L1648.4 983.3 L1651.4 978.1 L1654.4 972.7 L1657.5 967.2 L1660.5 961.7 L1663.5 956.1 L1666.5 950.4 L1669.6 944.7 L1672.6 939 L1675.6 933.3 L1678.6 927.6 L1681.7 921.9 L1684.7 916.1 L1687.7 910.3 L1690.7 904.5 L1693.8 898.7 L1696.8 893 L1699.8 887.4 L1702.8 881.9 L1705.8 876.7 L1708.9 871.8 L1711.9 867.1 L1714.9 862.6 L1717.9 858.2 L1721 854 L1724 849.9 L1727 846 L1730 842.3 L1733.1 838.8 L1736.1 835.6 L1739.1 832.5 L1742.1 829.7 L1745.2 827 L1748.2 824.6 L1751.2 822.5 L1754.2 820.6 L1757.3 818.9 L1760.3 817.3 L1763.3 815.9 L1766.3 814.5 L1769.3 813.3 L1772.4 812.1 L1775.4 811.1 L1778.4 810.2 L1781.4 809.4 L1784.5 808.7 L1787.5 808.1 L1790.5 807.8 L1793.5 807.6 L1796.6 807.6" fill="none" stroke="#4daf4a" stroke-width="6" stroke-linejoin="round"/>
<path d="M1158.5 1207.4 L1161.6 1205 L1164.6 1202.7 L1167.6 1200.4 L1170.6 1198.1 L1173.7 1195.9 L1176.7 1193.7 L1179.7 1191.5 L1182.7 1189.3 L1185.8 1187.2 L1188.8 1185 L1191.8 1182.9 L1194.8 1180.8 L1197.9 1178.7 L1200.9 1176.7 L1203.9 1174.6 L1206.9 1172.5 L1209.9 1170.5 L1213 1168.5 L1216 1166.5 L1219 1164.5 L1222 1162.6 L1225.1 1160.7 L1228.1 1158.9 L1231.1 1157.2 L1234.1 1155.5 L1237.2 1153.8 L1240.2 1152.3 L1243.2 1150.8 L1246.2 1149.4 L1249.3 1148.1 L1252.3 1146.9 L1255.3 1145.9 L1258.3 1144.9 L1261.4 1144 L1264.4 1143.2 L1267.4 1142.5 L1270.4 1141.8 L1273.4 1141.2 L1276.5 1140.5 L1279.5 1139.9 L1282.5 1139.2 L1285.5 1138.6 L1288.6 1138 L1291.6 1137.4 L1294.6 1136.9 L1297.6 1136.4 L1300.7 1135.9 L1303.7 1135.4 L1306.7 1134.9 L1309.7 1134.4 L1312.8 1133.9 L1315.8 1133.4 L1318.8 1132.9 L1321.8 1132.5 L1324.9 1132 L1327.9 1131.6 L1330.9 1131.2 L1333.9 1130.7 L1336.9 1130.3 L1340 1129.9 L1343 1129.5 L1346 1129.2 L1349 1128.8 L1352.1 1128.5 L1355.1 1128.1 L1358.1 1127.8 L1361.1 1127.5 L1364.2 1127.2 L1367.2 1127 L1370.2 1126.7 L1373.2 1126.4 L1376.3 1126.2 L1379.3 1125.9 L1382.3 1125.7 L1385.3 1125.5 L1388.4 1125.3 L1391.4 1125.1 L1394.4 1124.8 L1397.4 1124.7 L1400.4 1124.5 L1403.5 1124.4 L1406.5 1124.3 L1409.5 1124.2 L1412.5 1124.1 L1415.6 1124 L1418.6 1123.9 L1421.6 1123.9 L1424.6 1123.8 L1427.7 1123.8 L1430.7 1123.7 L1433.7 1123.6 L1436.7 1123.5 L1439.8 1123.3 L1442.8 1123.2 L1445.8 1123 L1448.8 1122.7 L1451.9 1122.4 L1454.9 1122.1 L1457.9 1121.8 L1460.9 1121.4 L1463.9 1120.9 L1467 1120.5 L1470 1120 L1473 1119.5 L1476 1119 L1479.1 1118.4 L1482.1 1117.9 L1485.1 1117.3 L1488.1 1116.6 L1491.2 1115.8 L1494.2 1115.1 L1497.2 1114.2 L1500.2 1113.4 L1503.3 1112.5 L1506.3 1111.5 L1509.3 1110.5 L1512.3 1109.5 L1515.3 1108.5 L1518.4 1107.4 L1521.4 1106.3 L1524.4 1105.2 L1527.4 1104.1 L1530.5 1103 L1533.5 1101.8 L1536.5 1100.6 L1539.5 1099.3 L1542.6 1098 L1545.6 1096.6 L1548.6 1095.2 L1551.6 1093.7 L1554.7 1092.1 L1557.7 1090.5 L1560.7 1088.8 L1563.7 1087 L1566.8 1085.2 L1569.8 1083.3 L1572.8 1081.3 L1575.8 1079.3 L1578.8 1077.1 L1581.9 1074.8 L1584.9 1072.4 L1587.9 1069.7 L1590.9 1067 L1594 1064.1 L1597 1061.1 L1600 1058.1 L1603 1055 L1606.1 1051.8 L1609.1 1048.6 L1612.1 1045.2 L1615.1 1041.8 L1618.2 1038.2 L1621.2 1034.6 L1624.2 1030.8 L1627.2 1027 L1630.3 1023 L1633.3 1019 L1636.3 1014.8 L1639.3 1010.4 L1642.3 1005.6 L1645.4 1000.5 L1648.4 995 L1651.4 989 L1654.4 982.8 L1657.5 976.6 L1660.5 970.4 L1663.5 964.2 L1666.5 958 L1669.6 951.8 L1672.6 945.6 L1675.6 939.4 L1678.6 933.2 L1681.7 927 L1684.7 920.8 L1687.7 914.6 L1690.7 908.4 L1693.8 902.2 L1696.8 896 L1699.8 889.8 L1702.8 883.9 L1705.8 878.4 L1708.9 873.4 L1711.9 868.6 L1714.9 864.1 L1717.9 859.7 L1721 855.4 L1724 851.1 L1727 846.9 L1730 842.9 L1733.1 839.1 L1736.1 835.6 L1739.1 832.4 L1742.1 829.5 L1745.2 826.9 L1748.2 824.6 L1751.2 822.6 L1754.2 820.6 L1757.3 818.9 L1760.3 817.3 L1763.3 815.9 L1766.3 814.5 L1769.3 813.3 L1772.4 812.1 L1775.4 811.1 L1778.4 810.2 L1781.4 809.4 L1784.5 808.7 L1787.5 808.1 L1790.5 807.8 L1793.5 807.6 L1796.6 807.6" fill="none" stroke="#984ea3" stroke-width="6" stroke-linejoin="round"/>
<path d="M1158.5 1246.4 L1161.6 1243.8 L1164.6 1241.2 L1167.6 1238.7 L1170.6 1236.2 L1173.7 1233.8 L1176.7 1231.4 L1179.7 1229 L1182.7 1226.6 L1185.8 1224.3 L1188.8 1222.1 L1191.8 1219.8 L1194.8 1217.6 L1197.9 1215.4 L1200.9 1213.2 L1203.9 1211.1 L1206.9 1209 L1209.9 1206.9 L1213 1204.9 L1216 1202.9 L1219 1200.9 L1222 1199 L1225.1 1197.1 L1228.1 1195.2 L1231.1 1193.4 L1234.1 1191.6 L1237.2 1189.9 L1240.2 1188.2 L1243.2 1186.5 L1246.2 1184.9 L1249.3 1183.3 L1252.3 1181.8 L1255.3 1180.4 L1258.3 1179.1 L1261.4 1177.9 L1264.4 1176.8 L1267.4 1175.8 L1270.4 1174.9 L1273.4 1174 L1276.5 1173.3 L1279.5 1172.5 L1282.5 1171.9 L1285.5 1171.2 L1288.6 1170.6 L1291.6 1170.1 L1294.6 1169.7 L1297.6 1169.4 L1300.7 1169.1 L1303.7 1168.8 L1306.7 1168.5 L1309.7 1168.2 L1312.8 1167.9 L1315.8 1167.6 L1318.8 1167.3 L1321.8 1167 L1324.9 1166.7 L1327.9 1166.4 L1330.9 1166.1 L1333.9 1165.8 L1336.9 1165.5 L1340 1165.2 L1343 1164.9 L1346 1164.6 L1349 1164.3 L1352.1 1164 L1355.1 1163.7 L1358.1 1163.4 L1361.1 1163.1 L1364.2 1162.8 L1367.2 1162.5 L1370.2 1162.2 L1373.2 1161.9 L1376.3 1161.6 L1379.3 1161.2 L1382.3 1160.9 L1385.3 1160.6 L1388.4 1160.3 L1391.4 1160 L1394.4 1159.7 L1397.4 1159.4 L1400.4 1159.2 L1403.5 1158.9 L1406.5 1158.7 L1409.5 1158.5 L1412.5 1158.3 L1415.6 1158.1 L1418.6 1157.9 L1421.6 1157.7 L1424.6 1157.5 L1427.7 1157.3 L1430.7 1157.1 L1433.7 1156.8 L1436.7 1156.6 L1439.8 1156.4 L1442.8 1156.1 L1445.8 1155.8 L1448.8 1155.4 L1451.9 1155 L1454.9 1154.5 L1457.9 1154 L1460.9 1153.4 L1463.9 1152.7 L1467 1152 L1470 1151.3 L1473 1150.6 L1476 1149.8 L1479.1 1149 L1482.1 1148.2 L1485.1 1147.4 L1488.1 1146.4 L1491.2 1145.4 L1494.2 1144.4 L1497.2 1143.3 L1500.2 1142.1 L1503.3 1140.9 L1506.3 1139.7 L1509.3 1138.4 L1512.3 1137.1 L1515.3 1135.7 L1518.4 1134.3 L1521.4 1132.9 L1524.4 1131.4 L1527.4 1129.9 L1530.5 1128.4 L1533.5 1126.9 L1536.5 1125.3 L1539.5 1123.6 L1542.6 1121.9 L1545.6 1120.1 L1548.6 1118.2 L1551.6 1116.2 L1554.7 1114.2 L1557.7 1112.1 L1560.7 1110 L1563.7 1107.7 L1566.8 1105.4 L1569.8 1103 L1572.8 1100.5 L1575.8 1097.9 L1578.8 1095.2 L1581.9 1092.4 L1584.9 1089.4 L1587.9 1086.3 L1590.9 1083.1 L1594 1079.8 L1597 1076.4 L1600 1073 L1603 1069.5 L1606.1 1066 L1609.1 1062.4 L1612.1 1058.7 L1615.1 1054.9 L1618.2 1051.1 L1621.2 1047.2 L1624.2 1043.2 L1627.2 1039.1 L1630.3 1035 L1633.3 1030.7 L1636.3 1026.2 L1639.3 1021.5 L1642.3 1016.5 L1645.4 1011 L1648.4 1005.1 L1651.4 998.6 L1654.4 992 L1657.5 985.3 L1660.5 978.7 L1663.5 972 L1666.5 965.4 L1669.6 958.7 L1672.6 952.1 L1675.6 945.4 L1678.6 938.8 L1681.7 932.1 L1684.7 925.5 L1687.7 918.8 L1690.7 912.2 L1693.8 905.5 L1696.8 898.9 L1699.8 892.2 L1702.8 885.9 L1705.8 880.1 L1708.9 874.8 L1711.9 869.8 L1714.9 865.1 L1717.9 860.5 L1721 856.1 L1724 851.6 L1727 847.2 L1730 843 L1733.1 839.1 L1736.1 835.6 L1739.1 832.4 L1742.1 829.5 L1745.2 826.9 L1748.2 824.6 L1751.2 822.6 L1754.2 820.6 L1757.3 818.9 L1760.3 817.3 L1763.3 815.9 L1766.3 814.6 L1769.3 813.3 L1772.4 812.2 L1775.4 811.1 L1778.4 810.1 L1781.4 809.2 L1784.5 808.4 L1787.5 807.9 L1790.5 807.5 L1793.5 807.3 L1796.6 807.3" fill="none" stroke="#ff7f00" stroke-width="6" stroke-linejoin="round"/>
<path d="M1158.5 1283 L1161.6 1280.2 L1164.6 1277.5 L1167.6 1274.8 L1170.6 1272.1 L1173.7 1269.5 L1176.7 1266.9 L1179.7 1264.3 L1182.7 1261.8 L1185.8 1259.3 L1188.8 1256.9 L1191.8 1254.4 L1194.8 1252 L1197.9 1249.6 L1200.9 1247.2 L1203.9 1244.9 L1206.9 1242.6 L1209.9 1240.3 L1213 1238.1 L1216 1235.9 L1219 1233.7 L1222 1231.6 L1225.1 1229.5 L1228.1 1227.5 L1231.1 1225.5 L1234.1 1223.6 L1237.2 1221.8 L1240.2 1220 L1243.2 1218.3 L1246.2 1216.6 L1249.3 1215.1 L1252.3 1213.6 L1255.3 1212.3 L1258.3 1211.1 L1261.4 1210.1 L1264.4 1209.1 L1267.4 1208.3 L1270.4 1207.7 L1273.4 1207.1 L1276.5 1206.6 L1279.5 1206.1 L1282.5 1205.6 L1285.5 1205.1 L1288.6 1204.7 L1291.6 1204.3 L1294.6 1203.9 L1297.6 1203.6 L1300.7 1203.2 L1303.7 1202.9 L1306.7 1202.6 L1309.7 1202.3 L1312.8 1202.1 L1315.8 1201.8 L1318.8 1201.5 L1321.8 1201.2 L1324.9 1201 L1327.9 1200.7 L1330.9 1200.4 L1333.9 1200.1 L1336.9 1199.8 L1340 1199.4 L1343 1199.1 L1346 1198.7 L1349 1198.3 L1352.1 1197.8 L1355.1 1197.3 L1358.1 1196.8 L1361.1 1196.3 L1364.2 1195.7 L1367.2 1195.1 L1370.2 1194.5 L1373.2 1193.9 L1376.3 1193.3 L1379.3 1192.7 L1382.3 1192.2 L1385.3 1191.6 L1388.4 1191.1 L1391.4 1190.7 L1394.4 1190.2 L1397.4 1189.9 L1400.4 1189.5 L1403.5 1189.3 L1406.5 1189 L1409.5 1188.8 L1412.5 1188.6 L1415.6 1188.4 L1418.6 1188.2 L1421.6 1188.1 L1424.6 1187.9 L1427.7 1187.8 L1430.7 1187.6 L1433.7 1187.4 L1436.7 1187.2 L1439.8 1186.9 L1442.8 1186.6 L1445.8 1186.3 L1448.8 1185.9 L1451.9 1185.5 L1454.9 1185.1 L1457.9 1184.6 L1460.9 1184.1 L1463.9 1183.6 L1467 1183 L1470 1182.3 L1473 1181.7 L1476 1181 L1479.1 1180.3 L1482.1 1179.5 L1485.1 1178.6 L1488.1 1177.6 L1491.2 1176.5 L1494.2 1175.3 L1497.2 1174 L1500.2 1172.6 L1503.3 1171.1 L1506.3 1169.6 L1509.3 1167.9 L1512.3 1166.3 L1515.3 1164.5 L1518.4 1162.7 L1521.4 1160.8 L1524.4 1158.9 L1527.4 1157 L1530.5 1155 L1533.5 1153 L1536.5 1150.9 L1539.5 1148.7 L1542.6 1146.5 L1545.6 1144.3 L1548.6 1141.9 L1551.6 1139.5 L1554.7 1137.1 L1557.7 1134.5 L1560.7 1131.9 L1563.7 1129.2 L1566.8 1126.5 L1569.8 1123.6 L1572.8 1120.7 L1575.8 1117.7 L1578.8 1114.6 L1581.9 1111.4 L1584.9 1108 L1587.9 1104.6 L1590.9 1101.1 L1594 1097.6 L1597 1093.9 L1600 1090.3 L1603 1086.5 L1606.1 1082.7 L1609.1 1078.8 L1612.1 1074.9 L1615.1 1070.8 L1618.2 1066.7 L1621.2 1062.4 L1624.2 1058.1 L1627.2 1053.7 L1630.3 1049.1 L1633.3 1044.4 L1636.3 1039.5 L1639.3 1034.3 L1642.3 1028.8 L1645.4 1022.9 L1648.4 1016.5 L1651.4 1009.5 L1654.4 1002.4 L1657.5 995.3 L1660.5 988.2 L1663.5 981.1 L1666.5 974 L1669.6 966.9 L1672.6 959.8 L1675.6 952.7 L1678.6 945.6 L1681.7 938.5 L1684.7 931.4 L1687.7 924.3 L1690.7 917.2 L1693.8 910.1 L1696.8 903 L1699.8 895.9 L1702.8 889.1 L1705.8 882.9 L1708.9 877.2 L1711.9 871.8 L1714.9 866.7 L1717.9 861.9 L1721 857.1 L1724 852.4 L1727 847.7 L1730 843.3 L1733.1 839.2 L1736.1 835.6 L1739.1 832.4 L1742.1 829.5 L1745.2 826.9 L1748.2 824.6 L1751.2 822.6 L1754.2 820.6 L1757.3 818.8 L1760.3 817.3 L1763.3 816 L1766.3 814.7 L1769.3 813.4 L1772.4 812.2 L1775.4 810.9 L1778.4 809.7 L1781.4 808.5 L1784.5 807.3 L1787.5 806.4 L1790.5 806 L1793.5 805.9 L1796.6 806.1" fill="none" stroke="#ffd92f" stroke-width="6" stroke-linejoin="round"/>
<path d="M1158.5 1316 L1161.6 1313.6 L1164.6 1311.3 L1167.6 1309 L1170.6 1306.7 L1173.7 1304.4 L1176.7 1302.1 L1179.7 1299.8 L1182.7 1297.6 L1185.8 1295.3 L1188.8 1293 L1191.8 1290.7 L1194.8 1288.5 L1197.9 1286.2 L1200.9 1283.9 L1203.9 1281.6 L1206.9 1279.4 L1209.9 1277.1 L1213 1274.9 L1216 1272.7 L1219 1270.5 L1222 1268.3 L1225.1 1266.1 L1228.1 1263.9 L1231.1 1261.7 L1234.1 1259.6 L1237.2 1257.4 L1240.2 1255.3 L1243.2 1253.2 L1246.2 1251 L1249.3 1249 L1252.3 1247.1 L1255.3 1245.4 L1258.3 1243.9 L1261.4 1242.6 L1264.4 1241.4 L1267.4 1240.4 L1270.4 1239.5 L1273.4 1238.7 L1276.5 1238 L1279.5 1237.3 L1282.5 1236.7 L1285.5 1236 L1288.6 1235.5 L1291.6 1234.9 L1294.6 1234.5 L1297.6 1234 L1300.7 1233.6 L1303.7 1233.3 L1306.7 1232.9 L1309.7 1232.5 L1312.8 1232.2 L1315.8 1231.8 L1318.8 1231.5 L1321.8 1231.1 L1324.9 1230.8 L1327.9 1230.4 L1330.9 1230 L1333.9 1229.7 L1336.9 1229.3 L1340 1228.9 L1343 1228.4 L1346 1228 L1349 1227.5 L1352.1 1227 L1355.1 1226.5 L1358.1 1226 L1361.1 1225.4 L1364.2 1224.9 L1367.2 1224.3 L1370.2 1223.8 L1373.2 1223.2 L1376.3 1222.7 L1379.3 1222.1 L1382.3 1221.6 L1385.3 1221 L1388.4 1220.5 L1391.4 1220 L1394.4 1219.5 L1397.4 1219.1 L1400.4 1218.7 L1403.5 1218.5 L1406.5 1218.2 L1409.5 1218 L1412.5 1217.8 L1415.6 1217.7 L1418.6 1217.5 L1421.6 1217.3 L1424.6 1217.1 L1427.7 1216.9 L1430.7 1216.6 L1433.7 1216.2 L1436.7 1215.8 L1439.8 1215.3 L1442.8 1214.7 L1445.8 1214 L1448.8 1213.3 L1451.9 1212.5 L1454.9 1211.8 L1457.9 1211 L1460.9 1210.2 L1463.9 1209.4 L1467 1208.7 L1470 1207.9 L1473 1207.3 L1476 1206.6 L1479.1 1205.9 L1482.1 1205.1 L1485.1 1204.2 L1488.1 1203.2 L1491.2 1202.1 L1494.2 1200.9 L1497.2 1199.7 L1500.2 1198.3 L1503.3 1196.9 L1506.3 1195.4 L1509.3 1193.8 L1512.3 1192.2 L1515.3 1190.6 L1518.4 1188.9 L1521.4 1187.2 L1524.4 1185.5 L1527.4 1183.7 L1530.5 1182 L1533.5 1180.2 L1536.5 1178.3 L1539.5 1176.4 L1542.6 1174.4 L1545.6 1172.4 L1548.6 1170.2 L1551.6 1168 L1554.7 1165.8 L1557.7 1163.4 L1560.7 1161 L1563.7 1158.6 L1566.8 1156 L1569.8 1153.4 L1572.8 1150.7 L1575.8 1148 L1578.8 1145.2 L1581.9 1142.2 L1584.9 1139 L1587.9 1135.6 L1590.9 1132.1 L1594 1128.5 L1597 1124.7 L1600 1120.9 L1603 1117 L1606.1 1113 L1609.1 1108.9 L1612.1 1104.7 L1615.1 1100.3 L1618.2 1095.7 L1621.2 1090.8 L1624.2 1085.7 L1627.2 1080.2 L1630.3 1074.5 L1633.3 1068.6 L1636.3 1062.4 L1639.3 1056.1 L1642.3 1049.6 L1645.4 1042.9 L1648.4 1036 L1651.4 1029.1 L1654.4 1022.1 L1657.5 1015 L1660.5 1007.8 L1663.5 1000.6 L1666.5 993.3 L1669.6 985.9 L1672.6 978.5 L1675.6 971 L1678.6 963.2 L1681.7 955.2 L1684.7 947.1 L1687.7 938.8 L1690.7 930.6 L1693.8 922.5 L1696.8 914.5 L1699.8 906.8 L1702.8 899.4 L1705.8 892.4 L1708.9 885.6 L1711.9 879.1 L1714.9 872.7 L1717.9 866.6 L1721 860.7 L1724 854.8 L1727 849.2 L1730 844.1 L1733.1 839.5 L1736.1 835.6 L1739.1 832.3 L1742.1 829.4 L1745.2 826.8 L1748.2 824.6 L1751.2 822.6 L1754.2 820.7 L1757.3 819 L1760.3 817.3 L1763.3 815.7 L1766.3 814.1 L1769.3 812.8 L1772.4 812 L1775.4 811.8 L1778.4 811.7 L1781.4 811.6 L1784.5 811.5 L1787.5 811.3 L1790.5 811.1 L1793.5 810.8 L1796.6 810.5" fill="none" stroke="#a65628" stroke-width="6" stroke-linejoin="round"/>
<rect x="1157.8" y="801.1" width="639.2" height="568.5" fill="none" stroke="#0a0a0a" stroke-width="7"/>
<line x1="1190.3" y1="1369.6" x2="1190.3" y2="1349.6" stroke="#0a0a0a" stroke-width="5.5"/>
<line x1="1317.9" y1="1369.6" x2="1317.9" y2="1349.6" stroke="#0a0a0a" stroke-width="5.5"/>
<line x1="1445.5" y1="1369.6" x2="1445.5" y2="1349.6" stroke="#0a0a0a" stroke-width="5.5"/>
<line x1="1573.1" y1="1369.6" x2="1573.1" y2="1349.6" stroke="#0a0a0a" stroke-width="5.5"/>
<line x1="1700.7" y1="1369.6" x2="1700.7" y2="1349.6" stroke="#0a0a0a" stroke-width="5.5"/>
<line x1="1254.1" y1="1369.6" x2="1254.1" y2="1359.6" stroke="#0a0a0a" stroke-width="5.5"/>
<line x1="1381.7" y1="1369.6" x2="1381.7" y2="1359.6" stroke="#0a0a0a" stroke-width="5.5"/>
<line x1="1509.3" y1="1369.6" x2="1509.3" y2="1359.6" stroke="#0a0a0a" stroke-width="5.5"/>
<line x1="1636.9" y1="1369.6" x2="1636.9" y2="1359.6" stroke="#0a0a0a" stroke-width="5.5"/>
<line x1="1764.5" y1="1369.6" x2="1764.5" y2="1359.6" stroke="#0a0a0a" stroke-width="5.5"/>
<line x1="1157.8" y1="817.9" x2="1177.8" y2="817.9" stroke="#0a0a0a" stroke-width="6"/>
<line x1="1157.8" y1="979.9" x2="1177.8" y2="979.9" stroke="#0a0a0a" stroke-width="6"/>
<line x1="1157.8" y1="1141.9" x2="1177.8" y2="1141.9" stroke="#0a0a0a" stroke-width="6"/>
<line x1="1157.8" y1="1303.9" x2="1177.8" y2="1303.9" stroke="#0a0a0a" stroke-width="6"/>
<line x1="1157.8" y1="898.9" x2="1167.8" y2="898.9" stroke="#0a0a0a" stroke-width="6"/>
<line x1="1157.8" y1="1060.9" x2="1167.8" y2="1060.9" stroke="#0a0a0a" stroke-width="6"/>
<line x1="1157.8" y1="1222.9" x2="1167.8" y2="1222.9" stroke="#0a0a0a" stroke-width="6"/>
<text x="1190.3" y="1419.5" font-size="36.8" text-anchor="middle" fill="#0a0a0a" stroke="#fff" stroke-width="0.15">0.2</text>
<text x="1317.9" y="1419.5" font-size="36.8" text-anchor="middle" fill="#0a0a0a" stroke="#fff" stroke-width="0.15">0.4</text>
<text x="1445.5" y="1419.5" font-size="36.8" text-anchor="middle" fill="#0a0a0a" stroke="#fff" stroke-width="0.15">0.6</text>
<text x="1573.1" y="1419.5" font-size="36.8" text-anchor="middle" fill="#0a0a0a" stroke="#fff" stroke-width="0.15">0.8</text>
<text x="1700.7" y="1419.5" font-size="36.8" text-anchor="middle" fill="#0a0a0a" stroke="#fff" stroke-width="0.15">1.0</text>
<text x="1134.5" y="828.9" font-size="36.8" text-anchor="end" fill="#0a0a0a" stroke="#fff" stroke-width="0.15">0</text>
<text x="1134.5" y="990.9" font-size="36.8" text-anchor="end" fill="#0a0a0a" stroke="#fff" stroke-width="0.15">-2</text>
<text x="1134.5" y="1152.9" font-size="36.8" text-anchor="end" fill="#0a0a0a" stroke="#fff" stroke-width="0.15">-4</text>
<text x="1134.5" y="1314.9" font-size="36.8" text-anchor="end" fill="#0a0a0a" stroke="#fff" stroke-width="0.15">-6</text>
<text x="1477.8" y="1469.8" font-size="47.3" text-anchor="middle" fill="#0a0a0a" >Potential (V vs. RHE)</text>
<text transform="translate(1060.5 1084.9) rotate(-90)" font-size="48.2" text-anchor="middle" fill="#0a0a0a">j (mA cm<tspan font-size="32.6" dy="-19.6">−2</tspan><tspan dy="19.6">)</tspan></text>
<text x="1191" y="848.4" font-size="36.3" text-anchor="start" fill="#0a0a0a" textLength="259" lengthAdjust="spacingAndGlyphs" stroke="#fff" stroke-width="0.15">Fe<tspan font-size="22.5" dy="8.7">3</tspan><tspan dy="-8.7">N@CNT/CC</tspan></text>
<clipPath id="cd"><rect x="1157.8" y="801.1" width="636" height="568.5"/></clipPath><g clip-path="url(#cd)">
<text x="1640.5" y="1069.5" font-size="37.3" text-anchor="start" fill="#e41a1c" stroke="#fff" stroke-width="0.15">400 rpm</text>
<text x="1640.5" y="1115.6" font-size="37.3" text-anchor="start" fill="#377eb8" stroke="#fff" stroke-width="0.15">625 rpm</text>
<text x="1640.5" y="1161.7" font-size="37.3" text-anchor="start" fill="#4daf4a" stroke="#fff" stroke-width="0.15">900 rpm</text>
<text x="1631" y="1207.8" font-size="37.3" text-anchor="start" fill="#984ea3" stroke="#fff" stroke-width="0.15">1225 rpm</text>
<text x="1631" y="1253.9" font-size="37.3" text-anchor="start" fill="#ff7f00" stroke="#fff" stroke-width="0.15">1600 rpm</text>
<text x="1631" y="1300" font-size="37.3" text-anchor="start" fill="#ffd92f" stroke="#fff" stroke-width="0.15">2025 rpm</text>
<text x="1631" y="1346.1" font-size="37.3" text-anchor="start" fill="#a65628" stroke="#fff" stroke-width="0.15">2500 rpm</text>
</g>
<text x="20.6" y="1510.9" font-size="72" text-anchor="start" fill="#0a0a0a" textLength="104.5" lengthAdjust="spacingAndGlyphs" >(e)</text>
<path d="M775.8 1661.5 L616 1789.2 L509.5 1866.2 L433.4 1923.9 L376.4 1967.6 L332 2001.7 L296.5 2028.9" fill="none" stroke="#111111" stroke-width="3.6" stroke-linejoin="round"/>
<rect x="771.6" y="1657.3" width="8.4" height="8.4" fill="none" stroke="#111111" stroke-width="2"/>
<rect x="611.8" y="1785" width="8.4" height="8.4" fill="none" stroke="#111111" stroke-width="2"/>
<rect x="505.3" y="1862" width="8.4" height="8.4" fill="none" stroke="#111111" stroke-width="2"/>
<rect x="429.2" y="1919.7" width="8.4" height="8.4" fill="none" stroke="#111111" stroke-width="2"/>
<rect x="372.2" y="1963.4" width="8.4" height="8.4" fill="none" stroke="#111111" stroke-width="2"/>
<rect x="327.8" y="1997.5" width="8.4" height="8.4" fill="none" stroke="#111111" stroke-width="2"/>
<rect x="292.3" y="2024.7" width="8.4" height="8.4" fill="none" stroke="#111111" stroke-width="2"/>
<path d="M775.8 1634.3 L616 1766.3 L509.5 1840.8 L433.4 1907.5 L376.4 1953 L332 1988.4 L296.5 2016.8" fill="none" stroke="#ff1a1a" stroke-width="3.6" stroke-linejoin="round"/>
<circle cx="775.8" cy="1634.3" r="4.2" fill="none" stroke="#ff1a1a" stroke-width="2"/>
<circle cx="616" cy="1766.3" r="4.2" fill="none" stroke="#ff1a1a" stroke-width="2"/>
<circle cx="509.5" cy="1840.8" r="4.2" fill="none" stroke="#ff1a1a" stroke-width="2"/>
<circle cx="433.4" cy="1907.5" r="4.2" fill="none" stroke="#ff1a1a" stroke-width="2"/>
<circle cx="376.4" cy="1953" r="4.2" fill="none" stroke="#ff1a1a" stroke-width="2"/>
<circle cx="332" cy="1988.4" r="4.2" fill="none" stroke="#ff1a1a" stroke-width="2"/>
<circle cx="296.5" cy="2016.8" r="4.2" fill="none" stroke="#ff1a1a" stroke-width="2"/>
<path d="M775.8 1617.6 L616 1747.8 L509.5 1828.5 L433.4 1895 L376.4 1941.4 L332 1977.6 L296.5 2006.5" fill="none" stroke="#14148a" stroke-width="3.6" stroke-linejoin="round"/>
<path d="M775.8 1612.8 L780 1620.6 L771.6 1620.6 Z" fill="none" stroke="#14148a" stroke-width="2"/>
<path d="M616 1742.9 L620.2 1750.7 L611.8 1750.7 Z" fill="none" stroke="#14148a" stroke-width="2"/>
<path d="M509.5 1823.7 L513.7 1831.4 L505.3 1831.4 Z" fill="none" stroke="#14148a" stroke-width="2"/>
<path d="M433.4 1890.1 L437.6 1897.9 L429.2 1897.9 Z" fill="none" stroke="#14148a" stroke-width="2"/>
<path d="M376.4 1936.6 L380.6 1944.4 L372.2 1944.4 Z" fill="none" stroke="#14148a" stroke-width="2"/>
<path d="M332 1972.7 L336.2 1980.5 L327.8 1980.5 Z" fill="none" stroke="#14148a" stroke-width="2"/>
<path d="M296.5 2001.7 L300.7 2009.4 L292.3 2009.4 Z" fill="none" stroke="#14148a" stroke-width="2"/>
<path d="M775.8 1606.7 L616 1736.4 L509.5 1821.8 L433.4 1887.5 L376.4 1934.6 L332 1971.2 L296.5 2000.4" fill="none" stroke="#8b1a1a" stroke-width="3.6" stroke-linejoin="round"/>
<path d="M775.8 1601.7 L780.8 1606.7 L775.8 1611.8 L770.8 1606.7 Z" fill="none" stroke="#8b1a1a" stroke-width="2"/>
<path d="M616 1731.3 L621.1 1736.4 L616 1741.4 L611 1736.4 Z" fill="none" stroke="#8b1a1a" stroke-width="2"/>
<path d="M509.5 1816.8 L514.6 1821.8 L509.5 1826.8 L504.5 1821.8 Z" fill="none" stroke="#8b1a1a" stroke-width="2"/>
<path d="M433.4 1882.5 L438.5 1887.5 L433.4 1892.6 L428.4 1887.5 Z" fill="none" stroke="#8b1a1a" stroke-width="2"/>
<path d="M376.4 1929.5 L381.4 1934.6 L376.4 1939.6 L371.3 1934.6 Z" fill="none" stroke="#8b1a1a" stroke-width="2"/>
<path d="M332 1966.1 L337 1971.2 L332 1976.2 L327 1971.2 Z" fill="none" stroke="#8b1a1a" stroke-width="2"/>
<path d="M296.5 1995.4 L301.5 2000.4 L296.5 2005.5 L291.5 2000.4 Z" fill="none" stroke="#8b1a1a" stroke-width="2"/>
<path d="M775.8 1582.9 L616 1716.9 L509.5 1808.8 L433.4 1873.3 L376.4 1921.8 L332 1959.4 L296.5 1989.5" fill="none" stroke="#4682b4" stroke-width="3.6" stroke-linejoin="round"/>
<path d="M780 1582.9 L773.1 1578.7 L773.1 1587.1 Z" fill="none" stroke="#4682b4" stroke-width="2" stroke-linejoin="miter"/>
<path d="M620.2 1716.9 L613.3 1712.7 L613.3 1721.1 Z" fill="none" stroke="#4682b4" stroke-width="2" stroke-linejoin="miter"/>
<path d="M513.7 1808.8 L506.8 1804.6 L506.8 1813 Z" fill="none" stroke="#4682b4" stroke-width="2" stroke-linejoin="miter"/>
<path d="M437.6 1873.3 L430.7 1869.1 L430.7 1877.5 Z" fill="none" stroke="#4682b4" stroke-width="2" stroke-linejoin="miter"/>
<path d="M380.6 1921.8 L373.7 1917.6 L373.7 1926 Z" fill="none" stroke="#4682b4" stroke-width="2" stroke-linejoin="miter"/>
<path d="M336.2 1959.4 L329.3 1955.2 L329.3 1963.6 Z" fill="none" stroke="#4682b4" stroke-width="2" stroke-linejoin="miter"/>
<path d="M300.7 1989.5 L293.8 1985.3 L293.8 1993.7 Z" fill="none" stroke="#4682b4" stroke-width="2" stroke-linejoin="miter"/>
<rect x="217.3" y="1533.2" width="638.4" height="566.3" fill="none" stroke="#0a0a0a" stroke-width="6.5"/>
<line x1="296.5" y1="2099.5" x2="296.5" y2="2079.5" stroke="#0a0a0a" stroke-width="5.5"/>
<line x1="456.3" y1="2099.5" x2="456.3" y2="2079.5" stroke="#0a0a0a" stroke-width="5.5"/>
<line x1="616" y1="2099.5" x2="616" y2="2079.5" stroke="#0a0a0a" stroke-width="5.5"/>
<line x1="775.8" y1="2099.5" x2="775.8" y2="2079.5" stroke="#0a0a0a" stroke-width="5.5"/>
<line x1="376.4" y1="2099.5" x2="376.4" y2="2089.5" stroke="#0a0a0a" stroke-width="5.5"/>
<line x1="536.2" y1="2099.5" x2="536.2" y2="2089.5" stroke="#0a0a0a" stroke-width="5.5"/>
<line x1="695.9" y1="2099.5" x2="695.9" y2="2089.5" stroke="#0a0a0a" stroke-width="5.5"/>
<line x1="217.3" y1="1626.4" x2="237.3" y2="1626.4" stroke="#0a0a0a" stroke-width="5.5"/>
<line x1="217.3" y1="1815.5" x2="237.3" y2="1815.5" stroke="#0a0a0a" stroke-width="5.5"/>
<line x1="217.3" y1="2004.6" x2="237.3" y2="2004.6" stroke="#0a0a0a" stroke-width="5.5"/>
<line x1="217.3" y1="1721" x2="227.3" y2="1721" stroke="#0a0a0a" stroke-width="5.5"/>
<line x1="217.3" y1="1910" x2="227.3" y2="1910" stroke="#0a0a0a" stroke-width="5.5"/>
<text x="296.5" y="2151" font-size="36.8" text-anchor="middle" fill="#0a0a0a" stroke="#fff" stroke-width="0.15">0.02</text>
<text x="456.3" y="2151" font-size="36.8" text-anchor="middle" fill="#0a0a0a" stroke="#fff" stroke-width="0.15">0.03</text>
<text x="616" y="2151" font-size="36.8" text-anchor="middle" fill="#0a0a0a" stroke="#fff" stroke-width="0.15">0.04</text>
<text x="775.8" y="2151" font-size="36.8" text-anchor="middle" fill="#0a0a0a" stroke="#fff" stroke-width="0.15">0.05</text>
<text x="193" y="1638.4" font-size="36.8" text-anchor="end" fill="#0a0a0a" stroke="#fff" stroke-width="0.15">0.4</text>
<text x="193" y="1827.5" font-size="36.8" text-anchor="end" fill="#0a0a0a" stroke="#fff" stroke-width="0.15">0.3</text>
<text x="193" y="2016.6" font-size="36.8" text-anchor="end" fill="#0a0a0a" stroke="#fff" stroke-width="0.15">0.2</text>
<text x="537" y="2209" font-size="47.5" text-anchor="middle" fill="#0a0a0a" >ω<tspan font-size="31.5" dy="-20">−1/2</tspan><tspan dy="20"> (rpm</tspan><tspan font-size="31.5" dy="-20">−1/2</tspan><tspan dy="20">)</tspan></text>
<text transform="translate(117.2 1817.2) rotate(-90)" font-size="47.8" text-anchor="middle" fill="#0a0a0a">J<tspan font-size="32" dy="-19">-1</tspan><tspan dy="19"> (mA</tspan><tspan font-size="32" dy="-19">−1</tspan><tspan dy="19"> cm</tspan><tspan font-size="32" dy="-19">−2</tspan><tspan dy="19">)</tspan></text>
<text x="275.3" y="1624.5" font-size="36.3" text-anchor="start" fill="#0a0a0a" textLength="259" lengthAdjust="spacingAndGlyphs" stroke="#fff" stroke-width="0.15">Fe<tspan font-size="22.5" dy="8.7">3</tspan><tspan dy="-8.7">N@CNT/CC</tspan></text>
<text x="294.7" y="1678.5" font-size="38" text-anchor="start" fill="#111111" stroke="#fff" stroke-width="0.15">0.3 V</text>
<rect x="255.9" y="1666.7" width="8.6" height="8.6" fill="none" stroke="#111111" stroke-width="2"/>
<text x="294.7" y="1724.6" font-size="38" text-anchor="start" fill="#ff1a1a" stroke="#fff" stroke-width="0.15">0.4 V</text>
<circle cx="260.2" cy="1717.1" r="4.3" fill="none" stroke="#ff1a1a" stroke-width="2"/>
<text x="294.7" y="1770.7" font-size="38" text-anchor="start" fill="#14148a" stroke="#fff" stroke-width="0.15">0.5 V</text>
<path d="M260.2 1758.3 L264.5 1766.2 L255.9 1766.2 Z" fill="none" stroke="#14148a" stroke-width="2"/>
<text x="294.7" y="1816.8" font-size="38" text-anchor="start" fill="#8b1a1a" stroke="#fff" stroke-width="0.15">0.6 V</text>
<path d="M260.2 1804.1 L265.4 1809.3 L260.2 1814.5 L255 1809.3 Z" fill="none" stroke="#8b1a1a" stroke-width="2"/>
<text x="294.7" y="1862.9" font-size="38" text-anchor="start" fill="#4682b4" stroke="#fff" stroke-width="0.15">0.65 V</text>
<path d="M264.5 1855.4 L257.4 1851.1 L257.4 1859.7 Z" fill="none" stroke="#4682b4" stroke-width="2" stroke-linejoin="miter"/>
<text x="991.4" y="1513.9" font-size="72" text-anchor="start" fill="#0a0a0a" textLength="84.5" lengthAdjust="spacingAndGlyphs" >(f)</text>
<clipPath id="cf"><rect x="1160.5" y="1534.7" width="637.5" height="568.1"/></clipPath>
<g clip-path="url(#cf)">
<rect x="1159.5" y="1726.9" width="19.4" height="19.4" fill="none" stroke="#0a0a0a" stroke-width="4.3"/>
<rect x="1168.5" y="1734.7" width="19.4" height="19.4" fill="none" stroke="#0a0a0a" stroke-width="4.3"/>
<rect x="1180.6" y="1729.9" width="19.4" height="19.4" fill="none" stroke="#0a0a0a" stroke-width="4.3"/>
<rect x="1189.7" y="1713.5" width="19.4" height="19.4" fill="none" stroke="#0a0a0a" stroke-width="4.3"/>
<rect x="1200" y="1696.6" width="19.4" height="19.4" fill="none" stroke="#0a0a0a" stroke-width="4.3"/>
<rect x="1210.9" y="1704.5" width="19.4" height="19.4" fill="none" stroke="#0a0a0a" stroke-width="4.3"/>
<rect x="1220" y="1714.8" width="19.4" height="19.4" fill="none" stroke="#0a0a0a" stroke-width="4.3"/>
<rect x="1235.1" y="1716.6" width="19.4" height="19.4" fill="none" stroke="#0a0a0a" stroke-width="4.3"/>
<rect x="1242.4" y="1731.7" width="19.4" height="19.4" fill="none" stroke="#0a0a0a" stroke-width="4.3"/>
<rect x="1253.3" y="1758.9" width="19.4" height="19.4" fill="none" stroke="#0a0a0a" stroke-width="4.3"/>
<rect x="1266.6" y="1760.7" width="19.4" height="19.4" fill="none" stroke="#0a0a0a" stroke-width="4.3"/>
<rect x="1272.6" y="1748" width="19.4" height="19.4" fill="none" stroke="#0a0a0a" stroke-width="4.3"/>
<rect x="1284.7" y="1728.7" width="19.4" height="19.4" fill="none" stroke="#0a0a0a" stroke-width="4.3"/>
<rect x="1301.7" y="1726.9" width="19.4" height="19.4" fill="none" stroke="#0a0a0a" stroke-width="4.3"/>
<rect x="1312" y="1729.9" width="19.4" height="19.4" fill="none" stroke="#0a0a0a" stroke-width="4.3"/>
<rect x="1322.9" y="1734.7" width="19.4" height="19.4" fill="none" stroke="#0a0a0a" stroke-width="4.3"/>
<rect x="1328.9" y="1731.7" width="19.4" height="19.4" fill="none" stroke="#0a0a0a" stroke-width="4.3"/>
<rect x="1338" y="1704.5" width="19.4" height="19.4" fill="none" stroke="#0a0a0a" stroke-width="4.3"/>
<rect x="1359.2" y="1711.7" width="19.4" height="19.4" fill="none" stroke="#0a0a0a" stroke-width="4.3"/>
<rect x="1370.1" y="1765" width="19.4" height="19.4" fill="none" stroke="#0a0a0a" stroke-width="4.3"/>
<rect x="1382.2" y="1768" width="19.4" height="19.4" fill="none" stroke="#0a0a0a" stroke-width="4.3"/>
<rect x="1392.5" y="1739.6" width="19.4" height="19.4" fill="none" stroke="#0a0a0a" stroke-width="4.3"/>
<rect x="1404.6" y="1737.8" width="19.4" height="19.4" fill="none" stroke="#0a0a0a" stroke-width="4.3"/>
<rect x="1413.6" y="1746.8" width="19.4" height="19.4" fill="none" stroke="#0a0a0a" stroke-width="4.3"/>
<rect x="1425.7" y="1742.6" width="19.4" height="19.4" fill="none" stroke="#0a0a0a" stroke-width="4.3"/>
<rect x="1434.8" y="1729.9" width="19.4" height="19.4" fill="none" stroke="#0a0a0a" stroke-width="4.3"/>
<rect x="1446.9" y="1739.6" width="19.4" height="19.4" fill="none" stroke="#0a0a0a" stroke-width="4.3"/>
<rect x="1454.8" y="1760.7" width="19.4" height="19.4" fill="none" stroke="#0a0a0a" stroke-width="4.3"/>
<rect x="1465.1" y="1746.8" width="19.4" height="19.4" fill="none" stroke="#0a0a0a" stroke-width="4.3"/>
<rect x="1474.1" y="1735.9" width="19.4" height="19.4" fill="none" stroke="#0a0a0a" stroke-width="4.3"/>
<rect x="1485" y="1725.6" width="19.4" height="19.4" fill="none" stroke="#0a0a0a" stroke-width="4.3"/>
<rect x="1501.4" y="1710.5" width="19.4" height="19.4" fill="none" stroke="#0a0a0a" stroke-width="4.3"/>
<rect x="1510.5" y="1695.4" width="19.4" height="19.4" fill="none" stroke="#0a0a0a" stroke-width="4.3"/>
<rect x="1522.6" y="1716.6" width="19.4" height="19.4" fill="none" stroke="#0a0a0a" stroke-width="4.3"/>
<rect x="1537.7" y="1725.6" width="19.4" height="19.4" fill="none" stroke="#0a0a0a" stroke-width="4.3"/>
<rect x="1551.6" y="1733.5" width="19.4" height="19.4" fill="none" stroke="#0a0a0a" stroke-width="4.3"/>
<rect x="1560.1" y="1762" width="19.4" height="19.4" fill="none" stroke="#0a0a0a" stroke-width="4.3"/>
<rect x="1571" y="1734.7" width="19.4" height="19.4" fill="none" stroke="#0a0a0a" stroke-width="4.3"/>
<rect x="1581.9" y="1716.6" width="19.4" height="19.4" fill="none" stroke="#0a0a0a" stroke-width="4.3"/>
<rect x="1592.2" y="1693.6" width="19.4" height="19.4" fill="none" stroke="#0a0a0a" stroke-width="4.3"/>
<rect x="1604.3" y="1701.4" width="19.4" height="19.4" fill="none" stroke="#0a0a0a" stroke-width="4.3"/>
<rect x="1613.3" y="1716.6" width="19.4" height="19.4" fill="none" stroke="#0a0a0a" stroke-width="4.3"/>
<rect x="1625.4" y="1716.6" width="19.4" height="19.4" fill="none" stroke="#0a0a0a" stroke-width="4.3"/>
<rect x="1637.5" y="1740.8" width="19.4" height="19.4" fill="none" stroke="#0a0a0a" stroke-width="4.3"/>
<rect x="1646.6" y="1758.9" width="19.4" height="19.4" fill="none" stroke="#0a0a0a" stroke-width="4.3"/>
<rect x="1658.7" y="1737.8" width="19.4" height="19.4" fill="none" stroke="#0a0a0a" stroke-width="4.3"/>
<rect x="1673.9" y="1731.7" width="19.4" height="19.4" fill="none" stroke="#0a0a0a" stroke-width="4.3"/>
<rect x="1689" y="1711.7" width="19.4" height="19.4" fill="none" stroke="#0a0a0a" stroke-width="4.3"/>
<rect x="1701.1" y="1716.6" width="19.4" height="19.4" fill="none" stroke="#0a0a0a" stroke-width="4.3"/>
<rect x="1710.2" y="1734.7" width="19.4" height="19.4" fill="none" stroke="#0a0a0a" stroke-width="4.3"/>
<rect x="1722.3" y="1739.6" width="19.4" height="19.4" fill="none" stroke="#0a0a0a" stroke-width="4.3"/>
<rect x="1731.3" y="1734.7" width="19.4" height="19.4" fill="none" stroke="#0a0a0a" stroke-width="4.3"/>
<rect x="1740.4" y="1743.8" width="19.4" height="19.4" fill="none" stroke="#0a0a0a" stroke-width="4.3"/>
<rect x="1749.5" y="1734.7" width="19.4" height="19.4" fill="none" stroke="#0a0a0a" stroke-width="4.3"/>
<rect x="1764.6" y="1740.8" width="19.4" height="19.4" fill="none" stroke="#0a0a0a" stroke-width="4.3"/>
<rect x="1774.9" y="1729.9" width="19.4" height="19.4" fill="none" stroke="#0a0a0a" stroke-width="4.3"/>
<rect x="1784" y="1746.8" width="19.4" height="19.4" fill="none" stroke="#0a0a0a" stroke-width="4.3"/>
<line x1="1371" y1="1738" x2="1376" y2="1760" stroke="#0a0a0a" stroke-width="3"/>
<path d="M1180.2 1633.7 L1160.4 1621.7 L1160.4 1645.7 Z" fill="none" stroke="#ff0000" stroke-width="4.3" stroke-linejoin="miter"/>
<path d="M1189.2 1652.4 L1169.4 1640.4 L1169.4 1664.4 Z" fill="none" stroke="#ff0000" stroke-width="4.3" stroke-linejoin="miter"/>
<path d="M1198.3 1651.8 L1178.5 1639.8 L1178.5 1663.8 Z" fill="none" stroke="#ff0000" stroke-width="4.3" stroke-linejoin="miter"/>
<path d="M1207.4 1667.6 L1187.6 1655.6 L1187.6 1679.6 Z" fill="none" stroke="#ff0000" stroke-width="4.3" stroke-linejoin="miter"/>
<path d="M1216.5 1648.8 L1196.7 1636.8 L1196.7 1660.8 Z" fill="none" stroke="#ff0000" stroke-width="4.3" stroke-linejoin="miter"/>
<path d="M1228.6 1649.4 L1208.8 1637.4 L1208.8 1661.4 Z" fill="none" stroke="#ff0000" stroke-width="4.3" stroke-linejoin="miter"/>
<path d="M1232.8 1641.2 L1213 1629.2 L1213 1653.2 Z" fill="none" stroke="#ff0000" stroke-width="4.3" stroke-linejoin="miter"/>
<path d="M1237.7 1644 L1217.9 1632 L1217.9 1656 Z" fill="none" stroke="#ff0000" stroke-width="4.3" stroke-linejoin="miter"/>
<path d="M1246.7 1655.5 L1226.9 1643.5 L1226.9 1667.5 Z" fill="none" stroke="#ff0000" stroke-width="4.3" stroke-linejoin="miter"/>
<path d="M1258.8 1654.9 L1239 1642.9 L1239 1666.9 Z" fill="none" stroke="#ff0000" stroke-width="4.3" stroke-linejoin="miter"/>
<path d="M1267.9 1673.6 L1248.1 1661.6 L1248.1 1685.6 Z" fill="none" stroke="#ff0000" stroke-width="4.3" stroke-linejoin="miter"/>
<path d="M1277 1657.9 L1257.2 1645.9 L1257.2 1669.9 Z" fill="none" stroke="#ff0000" stroke-width="4.3" stroke-linejoin="miter"/>
<path d="M1289.1 1670.6 L1269.3 1658.6 L1269.3 1682.6 Z" fill="none" stroke="#ff0000" stroke-width="4.3" stroke-linejoin="miter"/>
<path d="M1298.2 1667 L1278.4 1655 L1278.4 1679 Z" fill="none" stroke="#ff0000" stroke-width="4.3" stroke-linejoin="miter"/>
<path d="M1310.3 1690 L1290.5 1678 L1290.5 1702 Z" fill="none" stroke="#ff0000" stroke-width="4.3" stroke-linejoin="miter"/>
<path d="M1319.4 1663.9 L1299.6 1651.9 L1299.6 1675.9 Z" fill="none" stroke="#ff0000" stroke-width="4.3" stroke-linejoin="miter"/>
<path d="M1328.4 1670.6 L1308.6 1658.6 L1308.6 1682.6 Z" fill="none" stroke="#ff0000" stroke-width="4.3" stroke-linejoin="miter"/>
<path d="M1337.5 1667 L1317.7 1655 L1317.7 1679 Z" fill="none" stroke="#ff0000" stroke-width="4.3" stroke-linejoin="miter"/>
<path d="M1349.6 1670.6 L1329.8 1658.6 L1329.8 1682.6 Z" fill="none" stroke="#ff0000" stroke-width="4.3" stroke-linejoin="miter"/>
<path d="M1358.7 1670 L1338.9 1658 L1338.9 1682 Z" fill="none" stroke="#ff0000" stroke-width="4.3" stroke-linejoin="miter"/>
<path d="M1367.8 1685.7 L1348 1673.7 L1348 1697.7 Z" fill="none" stroke="#ff0000" stroke-width="4.3" stroke-linejoin="miter"/>
<path d="M1376.8 1682.1 L1357 1670.1 L1357 1694.1 Z" fill="none" stroke="#ff0000" stroke-width="4.3" stroke-linejoin="miter"/>
<path d="M1381.1 1686.5 L1361.3 1674.5 L1361.3 1698.5 Z" fill="none" stroke="#ff0000" stroke-width="4.3" stroke-linejoin="miter"/>
<path d="M1385.9 1694.8 L1366.1 1682.8 L1366.1 1706.8 Z" fill="none" stroke="#ff0000" stroke-width="4.3" stroke-linejoin="miter"/>
<path d="M1395 1670 L1375.2 1658 L1375.2 1682 Z" fill="none" stroke="#ff0000" stroke-width="4.3" stroke-linejoin="miter"/>
<path d="M1404.1 1673.6 L1384.3 1661.6 L1384.3 1685.6 Z" fill="none" stroke="#ff0000" stroke-width="4.3" stroke-linejoin="miter"/>
<path d="M1408.3 1679.8 L1388.5 1667.8 L1388.5 1691.8 Z" fill="none" stroke="#ff0000" stroke-width="4.3" stroke-linejoin="miter"/>
<path d="M1410.1 1676 L1390.3 1664 L1390.3 1688 Z" fill="none" stroke="#ff0000" stroke-width="4.3" stroke-linejoin="miter"/>
<path d="M1419.2 1694.8 L1399.4 1682.8 L1399.4 1706.8 Z" fill="none" stroke="#ff0000" stroke-width="4.3" stroke-linejoin="miter"/>
<path d="M1428.3 1691.2 L1408.5 1679.2 L1408.5 1703.2 Z" fill="none" stroke="#ff0000" stroke-width="4.3" stroke-linejoin="miter"/>
<path d="M1437.4 1706.9 L1417.6 1694.9 L1417.6 1718.9 Z" fill="none" stroke="#ff0000" stroke-width="4.3" stroke-linejoin="miter"/>
<path d="M1446.4 1700.2 L1426.6 1688.2 L1426.6 1712.2 Z" fill="none" stroke="#ff0000" stroke-width="4.3" stroke-linejoin="miter"/>
<path d="M1455.5 1713 L1435.7 1701 L1435.7 1725 Z" fill="none" stroke="#ff0000" stroke-width="4.3" stroke-linejoin="miter"/>
<path d="M1464.6 1700.2 L1444.8 1688.2 L1444.8 1712.2 Z" fill="none" stroke="#ff0000" stroke-width="4.3" stroke-linejoin="miter"/>
<path d="M1473.7 1716 L1453.9 1704 L1453.9 1728 Z" fill="none" stroke="#ff0000" stroke-width="4.3" stroke-linejoin="miter"/>
<path d="M1482.7 1712.4 L1462.9 1700.4 L1462.9 1724.4 Z" fill="none" stroke="#ff0000" stroke-width="4.3" stroke-linejoin="miter"/>
<path d="M1491.8 1723.2 L1472 1711.2 L1472 1735.2 Z" fill="none" stroke="#ff0000" stroke-width="4.3" stroke-linejoin="miter"/>
<path d="M1500.9 1729.3 L1481.1 1717.3 L1481.1 1741.3 Z" fill="none" stroke="#ff0000" stroke-width="4.3" stroke-linejoin="miter"/>
<path d="M1505.1 1717.8 L1485.3 1705.8 L1485.3 1729.8 Z" fill="none" stroke="#ff0000" stroke-width="4.3" stroke-linejoin="miter"/>
<path d="M1510 1741.4 L1490.2 1729.4 L1490.2 1753.4 Z" fill="none" stroke="#ff0000" stroke-width="4.3" stroke-linejoin="miter"/>
<path d="M1514.2 1755.3 L1494.4 1743.3 L1494.4 1767.3 Z" fill="none" stroke="#ff0000" stroke-width="4.3" stroke-linejoin="miter"/>
<path d="M1516 1705.1 L1496.2 1693.1 L1496.2 1717.1 Z" fill="none" stroke="#ff0000" stroke-width="4.3" stroke-linejoin="miter"/>
<path d="M1525.1 1702.1 L1505.3 1690.1 L1505.3 1714.1 Z" fill="none" stroke="#ff0000" stroke-width="4.3" stroke-linejoin="miter"/>
<path d="M1529.3 1714.2 L1509.5 1702.2 L1509.5 1726.2 Z" fill="none" stroke="#ff0000" stroke-width="4.3" stroke-linejoin="miter"/>
<path d="M1534.2 1729.3 L1514.4 1717.3 L1514.4 1741.3 Z" fill="none" stroke="#ff0000" stroke-width="4.3" stroke-linejoin="miter"/>
<path d="M1538.4 1741.5 L1518.6 1729.5 L1518.6 1753.5 Z" fill="none" stroke="#ff0000" stroke-width="4.3" stroke-linejoin="miter"/>
<path d="M1543.3 1735.3 L1523.5 1723.3 L1523.5 1747.3 Z" fill="none" stroke="#ff0000" stroke-width="4.3" stroke-linejoin="miter"/>
<path d="M1552.3 1723.2 L1532.5 1711.2 L1532.5 1735.2 Z" fill="none" stroke="#ff0000" stroke-width="4.3" stroke-linejoin="miter"/>
<path d="M1561.4 1720.2 L1541.6 1708.2 L1541.6 1732.2 Z" fill="none" stroke="#ff0000" stroke-width="4.3" stroke-linejoin="miter"/>
<path d="M1570.5 1717.2 L1550.7 1705.2 L1550.7 1729.2 Z" fill="none" stroke="#ff0000" stroke-width="4.3" stroke-linejoin="miter"/>
<path d="M1579.6 1714.2 L1559.8 1702.2 L1559.8 1726.2 Z" fill="none" stroke="#ff0000" stroke-width="4.3" stroke-linejoin="miter"/>
<path d="M1588.6 1723.2 L1568.8 1711.2 L1568.8 1735.2 Z" fill="none" stroke="#ff0000" stroke-width="4.3" stroke-linejoin="miter"/>
<path d="M1597.7 1735.3 L1577.9 1723.3 L1577.9 1747.3 Z" fill="none" stroke="#ff0000" stroke-width="4.3" stroke-linejoin="miter"/>
<path d="M1602 1750.8 L1582.2 1738.8 L1582.2 1762.8 Z" fill="none" stroke="#ff0000" stroke-width="4.3" stroke-linejoin="miter"/>
<path d="M1606.8 1759.6 L1587 1747.6 L1587 1771.6 Z" fill="none" stroke="#ff0000" stroke-width="4.3" stroke-linejoin="miter"/>
<path d="M1615.9 1720.2 L1596.1 1708.2 L1596.1 1732.2 Z" fill="none" stroke="#ff0000" stroke-width="4.3" stroke-linejoin="miter"/>
<path d="M1625 1744.4 L1605.2 1732.4 L1605.2 1756.4 Z" fill="none" stroke="#ff0000" stroke-width="4.3" stroke-linejoin="miter"/>
<path d="M1634 1759.6 L1614.2 1747.6 L1614.2 1771.6 Z" fill="none" stroke="#ff0000" stroke-width="4.3" stroke-linejoin="miter"/>
<path d="M1638.3 1769.2 L1618.5 1757.2 L1618.5 1781.2 Z" fill="none" stroke="#ff0000" stroke-width="4.3" stroke-linejoin="miter"/>
<path d="M1643.1 1744.4 L1623.3 1732.4 L1623.3 1756.4 Z" fill="none" stroke="#ff0000" stroke-width="4.3" stroke-linejoin="miter"/>
<path d="M1647.3 1752.4 L1627.5 1740.4 L1627.5 1764.4 Z" fill="none" stroke="#ff0000" stroke-width="4.3" stroke-linejoin="miter"/>
<path d="M1652.2 1750.5 L1632.4 1738.5 L1632.4 1762.5 Z" fill="none" stroke="#ff0000" stroke-width="4.3" stroke-linejoin="miter"/>
<path d="M1661.3 1756.5 L1641.5 1744.5 L1641.5 1768.5 Z" fill="none" stroke="#ff0000" stroke-width="4.3" stroke-linejoin="miter"/>
<path d="M1665.5 1749.1 L1645.7 1737.1 L1645.7 1761.1 Z" fill="none" stroke="#ff0000" stroke-width="4.3" stroke-linejoin="miter"/>
<path d="M1670.3 1750.5 L1650.5 1738.5 L1650.5 1762.5 Z" fill="none" stroke="#ff0000" stroke-width="4.3" stroke-linejoin="miter"/>
<path d="M1674.6 1765.1 L1654.8 1753.1 L1654.8 1777.1 Z" fill="none" stroke="#ff0000" stroke-width="4.3" stroke-linejoin="miter"/>
<path d="M1679.4 1729.3 L1659.6 1717.3 L1659.6 1741.3 Z" fill="none" stroke="#ff0000" stroke-width="4.3" stroke-linejoin="miter"/>
<path d="M1683.7 1718.8 L1663.9 1706.8 L1663.9 1730.8 Z" fill="none" stroke="#ff0000" stroke-width="4.3" stroke-linejoin="miter"/>
<path d="M1688.5 1762.6 L1668.7 1750.6 L1668.7 1774.6 Z" fill="none" stroke="#ff0000" stroke-width="4.3" stroke-linejoin="miter"/>
<path d="M1697.6 1756.5 L1677.8 1744.5 L1677.8 1768.5 Z" fill="none" stroke="#ff0000" stroke-width="4.3" stroke-linejoin="miter"/>
<path d="M1706.7 1762.6 L1686.9 1750.6 L1686.9 1774.6 Z" fill="none" stroke="#ff0000" stroke-width="4.3" stroke-linejoin="miter"/>
<path d="M1715.7 1768.6 L1695.9 1756.6 L1695.9 1780.6 Z" fill="none" stroke="#ff0000" stroke-width="4.3" stroke-linejoin="miter"/>
<path d="M1720 1752.9 L1700.2 1740.9 L1700.2 1764.9 Z" fill="none" stroke="#ff0000" stroke-width="4.3" stroke-linejoin="miter"/>
<path d="M1724.8 1771.7 L1705 1759.7 L1705 1783.7 Z" fill="none" stroke="#ff0000" stroke-width="4.3" stroke-linejoin="miter"/>
<path d="M1729 1763.5 L1709.2 1751.5 L1709.2 1775.5 Z" fill="none" stroke="#ff0000" stroke-width="4.3" stroke-linejoin="miter"/>
<path d="M1733.9 1768.6 L1714.1 1756.6 L1714.1 1780.6 Z" fill="none" stroke="#ff0000" stroke-width="4.3" stroke-linejoin="miter"/>
<path d="M1738.1 1753.1 L1718.3 1741.1 L1718.3 1765.1 Z" fill="none" stroke="#ff0000" stroke-width="4.3" stroke-linejoin="miter"/>
<path d="M1743 1774.7 L1723.2 1762.7 L1723.2 1786.7 Z" fill="none" stroke="#ff0000" stroke-width="4.3" stroke-linejoin="miter"/>
<path d="M1747.2 1783.3 L1727.4 1771.3 L1727.4 1795.3 Z" fill="none" stroke="#ff0000" stroke-width="4.3" stroke-linejoin="miter"/>
<path d="M1752 1768.6 L1732.2 1756.6 L1732.2 1780.6 Z" fill="none" stroke="#ff0000" stroke-width="4.3" stroke-linejoin="miter"/>
<path d="M1756.3 1778.6 L1736.5 1766.6 L1736.5 1790.6 Z" fill="none" stroke="#ff0000" stroke-width="4.3" stroke-linejoin="miter"/>
<path d="M1761.1 1762.6 L1741.3 1750.6 L1741.3 1774.6 Z" fill="none" stroke="#ff0000" stroke-width="4.3" stroke-linejoin="miter"/>
<path d="M1770.2 1747.5 L1750.4 1735.5 L1750.4 1759.5 Z" fill="none" stroke="#ff0000" stroke-width="4.3" stroke-linejoin="miter"/>
<path d="M1779.3 1762.6 L1759.5 1750.6 L1759.5 1774.6 Z" fill="none" stroke="#ff0000" stroke-width="4.3" stroke-linejoin="miter"/>
<path d="M1783.5 1777.2 L1763.7 1765.2 L1763.7 1789.2 Z" fill="none" stroke="#ff0000" stroke-width="4.3" stroke-linejoin="miter"/>
<path d="M1785.3 1789.8 L1765.5 1777.8 L1765.5 1801.8 Z" fill="none" stroke="#ff0000" stroke-width="4.3" stroke-linejoin="miter"/>
<path d="M1789.6 1777.3 L1769.8 1765.3 L1769.8 1789.3 Z" fill="none" stroke="#ff0000" stroke-width="4.3" stroke-linejoin="miter"/>
<path d="M1794.4 1768.6 L1774.6 1756.6 L1774.6 1780.6 Z" fill="none" stroke="#ff0000" stroke-width="4.3" stroke-linejoin="miter"/>
<path d="M1802.3 1786.8 L1782.5 1774.8 L1782.5 1798.8 Z" fill="none" stroke="#ff0000" stroke-width="4.3" stroke-linejoin="miter"/>
<path d="M1806.5 1799.4 L1786.7 1787.4 L1786.7 1811.4 Z" fill="none" stroke="#ff0000" stroke-width="4.3" stroke-linejoin="miter"/>
<path d="M1174 1929.1 L1161.6 1921.6 L1161.6 1936.6 Z" fill="#ff0000" stroke="#ff0000" stroke-width="3" stroke-linejoin="miter"/>
<path d="M1179 1927 L1166.6 1919.5 L1166.6 1934.5 Z" fill="#ff0000" stroke="#ff0000" stroke-width="3" stroke-linejoin="miter"/>
<path d="M1184.3 1930.2 L1171.9 1922.7 L1171.9 1937.7 Z" fill="#ff0000" stroke="#ff0000" stroke-width="3" stroke-linejoin="miter"/>
<path d="M1189.3 1927.6 L1176.9 1920.1 L1176.9 1935.1 Z" fill="#ff0000" stroke="#ff0000" stroke-width="3" stroke-linejoin="miter"/>
<path d="M1194.6 1929 L1182.3 1921.5 L1182.3 1936.5 Z" fill="#ff0000" stroke="#ff0000" stroke-width="3" stroke-linejoin="miter"/>
<path d="M1199.6 1928.2 L1187.3 1920.7 L1187.3 1935.7 Z" fill="#ff0000" stroke="#ff0000" stroke-width="3" stroke-linejoin="miter"/>
<path d="M1205 1926.1 L1192.6 1918.6 L1192.6 1933.6 Z" fill="#ff0000" stroke="#ff0000" stroke-width="3" stroke-linejoin="miter"/>
<path d="M1210 1926.1 L1197.6 1918.6 L1197.6 1933.6 Z" fill="#ff0000" stroke="#ff0000" stroke-width="3" stroke-linejoin="miter"/>
<path d="M1215.3 1925.4 L1202.9 1917.9 L1202.9 1932.9 Z" fill="#ff0000" stroke="#ff0000" stroke-width="3" stroke-linejoin="miter"/>
<path d="M1220.3 1925 L1207.9 1917.5 L1207.9 1932.5 Z" fill="#ff0000" stroke="#ff0000" stroke-width="3" stroke-linejoin="miter"/>
<path d="M1225.6 1925 L1213.2 1917.5 L1213.2 1932.5 Z" fill="#ff0000" stroke="#ff0000" stroke-width="3" stroke-linejoin="miter"/>
<path d="M1230.6 1922.5 L1218.2 1915 L1218.2 1930 Z" fill="#ff0000" stroke="#ff0000" stroke-width="3" stroke-linejoin="miter"/>
<path d="M1235.9 1926.2 L1223.5 1918.7 L1223.5 1933.7 Z" fill="#ff0000" stroke="#ff0000" stroke-width="3" stroke-linejoin="miter"/>
<path d="M1240.9 1928.1 L1228.5 1920.6 L1228.5 1935.6 Z" fill="#ff0000" stroke="#ff0000" stroke-width="3" stroke-linejoin="miter"/>
<path d="M1246.2 1924.1 L1233.9 1916.6 L1233.9 1931.6 Z" fill="#ff0000" stroke="#ff0000" stroke-width="3" stroke-linejoin="miter"/>
<path d="M1251.2 1922.4 L1238.9 1914.9 L1238.9 1929.9 Z" fill="#ff0000" stroke="#ff0000" stroke-width="3" stroke-linejoin="miter"/>
<path d="M1256.6 1926 L1244.2 1918.5 L1244.2 1933.5 Z" fill="#ff0000" stroke="#ff0000" stroke-width="3" stroke-linejoin="miter"/>
<path d="M1261.6 1928.7 L1249.2 1921.2 L1249.2 1936.2 Z" fill="#ff0000" stroke="#ff0000" stroke-width="3" stroke-linejoin="miter"/>
<path d="M1266.9 1925.2 L1254.5 1917.7 L1254.5 1932.7 Z" fill="#ff0000" stroke="#ff0000" stroke-width="3" stroke-linejoin="miter"/>
<path d="M1271.9 1924.6 L1259.5 1917.1 L1259.5 1932.1 Z" fill="#ff0000" stroke="#ff0000" stroke-width="3" stroke-linejoin="miter"/>
<path d="M1277.2 1926.6 L1264.8 1919.1 L1264.8 1934.1 Z" fill="#ff0000" stroke="#ff0000" stroke-width="3" stroke-linejoin="miter"/>
<path d="M1282.2 1923.9 L1269.8 1916.4 L1269.8 1931.4 Z" fill="#ff0000" stroke="#ff0000" stroke-width="3" stroke-linejoin="miter"/>
<path d="M1287.5 1925.5 L1275.1 1918 L1275.1 1933 Z" fill="#ff0000" stroke="#ff0000" stroke-width="3" stroke-linejoin="miter"/>
<path d="M1292.5 1924.2 L1280.1 1916.7 L1280.1 1931.7 Z" fill="#ff0000" stroke="#ff0000" stroke-width="3" stroke-linejoin="miter"/>
<path d="M1297.8 1921.3 L1285.5 1913.8 L1285.5 1928.8 Z" fill="#ff0000" stroke="#ff0000" stroke-width="3" stroke-linejoin="miter"/>
<path d="M1302.8 1919 L1290.5 1911.5 L1290.5 1926.5 Z" fill="#ff0000" stroke="#ff0000" stroke-width="3" stroke-linejoin="miter"/>
<path d="M1308.2 1921.6 L1295.8 1914.1 L1295.8 1929.1 Z" fill="#ff0000" stroke="#ff0000" stroke-width="3" stroke-linejoin="miter"/>
<path d="M1313.2 1923.5 L1300.8 1916 L1300.8 1931 Z" fill="#ff0000" stroke="#ff0000" stroke-width="3" stroke-linejoin="miter"/>
<path d="M1318.5 1920.4 L1306.1 1912.9 L1306.1 1927.9 Z" fill="#ff0000" stroke="#ff0000" stroke-width="3" stroke-linejoin="miter"/>
<path d="M1323.5 1920.9 L1311.1 1913.4 L1311.1 1928.4 Z" fill="#ff0000" stroke="#ff0000" stroke-width="3" stroke-linejoin="miter"/>
<path d="M1328.8 1922.1 L1316.4 1914.6 L1316.4 1929.6 Z" fill="#ff0000" stroke="#ff0000" stroke-width="3" stroke-linejoin="miter"/>
<path d="M1333.8 1921.3 L1321.4 1913.8 L1321.4 1928.8 Z" fill="#ff0000" stroke="#ff0000" stroke-width="3" stroke-linejoin="miter"/>
<path d="M1339.1 1921.1 L1326.7 1913.6 L1326.7 1928.6 Z" fill="#ff0000" stroke="#ff0000" stroke-width="3" stroke-linejoin="miter"/>
<path d="M1344.1 1918.4 L1331.7 1910.9 L1331.7 1925.9 Z" fill="#ff0000" stroke="#ff0000" stroke-width="3" stroke-linejoin="miter"/>
<path d="M1349.4 1918 L1337.1 1910.5 L1337.1 1925.5 Z" fill="#ff0000" stroke="#ff0000" stroke-width="3" stroke-linejoin="miter"/>
<path d="M1354.4 1916.3 L1342.1 1908.8 L1342.1 1923.8 Z" fill="#ff0000" stroke="#ff0000" stroke-width="3" stroke-linejoin="miter"/>
<path d="M1359.8 1920.6 L1347.4 1913.1 L1347.4 1928.1 Z" fill="#ff0000" stroke="#ff0000" stroke-width="3" stroke-linejoin="miter"/>
<path d="M1364.8 1920.1 L1352.4 1912.6 L1352.4 1927.6 Z" fill="#ff0000" stroke="#ff0000" stroke-width="3" stroke-linejoin="miter"/>
<path d="M1370.1 1918.2 L1357.7 1910.7 L1357.7 1925.7 Z" fill="#ff0000" stroke="#ff0000" stroke-width="3" stroke-linejoin="miter"/>
<path d="M1375.1 1918.7 L1362.7 1911.2 L1362.7 1926.2 Z" fill="#ff0000" stroke="#ff0000" stroke-width="3" stroke-linejoin="miter"/>
<path d="M1380.4 1918.3 L1368 1910.8 L1368 1925.8 Z" fill="#ff0000" stroke="#ff0000" stroke-width="3" stroke-linejoin="miter"/>
<path d="M1385.4 1917.1 L1373 1909.6 L1373 1924.6 Z" fill="#ff0000" stroke="#ff0000" stroke-width="3" stroke-linejoin="miter"/>
<path d="M1390.7 1919.4 L1378.3 1911.9 L1378.3 1926.9 Z" fill="#ff0000" stroke="#ff0000" stroke-width="3" stroke-linejoin="miter"/>
<path d="M1395.7 1920.6 L1383.3 1913.1 L1383.3 1928.1 Z" fill="#ff0000" stroke="#ff0000" stroke-width="3" stroke-linejoin="miter"/>
<path d="M1401 1916.1 L1388.7 1908.6 L1388.7 1923.6 Z" fill="#ff0000" stroke="#ff0000" stroke-width="3" stroke-linejoin="miter"/>
<path d="M1406 1916.5 L1393.7 1909 L1393.7 1924 Z" fill="#ff0000" stroke="#ff0000" stroke-width="3" stroke-linejoin="miter"/>
<path d="M1411.4 1916.9 L1399 1909.4 L1399 1924.4 Z" fill="#ff0000" stroke="#ff0000" stroke-width="3" stroke-linejoin="miter"/>
<path d="M1416.4 1919.2 L1404 1911.7 L1404 1926.7 Z" fill="#ff0000" stroke="#ff0000" stroke-width="3" stroke-linejoin="miter"/>
<path d="M1421.7 1917.4 L1409.3 1909.9 L1409.3 1924.9 Z" fill="#ff0000" stroke="#ff0000" stroke-width="3" stroke-linejoin="miter"/>
<path d="M1426.7 1916.1 L1414.3 1908.6 L1414.3 1923.6 Z" fill="#ff0000" stroke="#ff0000" stroke-width="3" stroke-linejoin="miter"/>
<path d="M1432 1918.1 L1419.6 1910.6 L1419.6 1925.6 Z" fill="#ff0000" stroke="#ff0000" stroke-width="3" stroke-linejoin="miter"/>
<path d="M1437 1915.8 L1424.6 1908.3 L1424.6 1923.3 Z" fill="#ff0000" stroke="#ff0000" stroke-width="3" stroke-linejoin="miter"/>
<path d="M1442.3 1914.7 L1429.9 1907.2 L1429.9 1922.2 Z" fill="#ff0000" stroke="#ff0000" stroke-width="3" stroke-linejoin="miter"/>
<path d="M1447.3 1916.2 L1434.9 1908.7 L1434.9 1923.7 Z" fill="#ff0000" stroke="#ff0000" stroke-width="3" stroke-linejoin="miter"/>
<path d="M1452.6 1912.8 L1440.3 1905.3 L1440.3 1920.3 Z" fill="#ff0000" stroke="#ff0000" stroke-width="3" stroke-linejoin="miter"/>
<path d="M1457.6 1912.7 L1445.3 1905.2 L1445.3 1920.2 Z" fill="#ff0000" stroke="#ff0000" stroke-width="3" stroke-linejoin="miter"/>
<path d="M1463 1911.6 L1450.6 1904.1 L1450.6 1919.1 Z" fill="#ff0000" stroke="#ff0000" stroke-width="3" stroke-linejoin="miter"/>
<path d="M1468 1912.6 L1455.6 1905.1 L1455.6 1920.1 Z" fill="#ff0000" stroke="#ff0000" stroke-width="3" stroke-linejoin="miter"/>
<path d="M1473.3 1914.7 L1460.9 1907.2 L1460.9 1922.2 Z" fill="#ff0000" stroke="#ff0000" stroke-width="3" stroke-linejoin="miter"/>
<path d="M1478.3 1915.1 L1465.9 1907.6 L1465.9 1922.6 Z" fill="#ff0000" stroke="#ff0000" stroke-width="3" stroke-linejoin="miter"/>
<path d="M1483.6 1914.7 L1471.2 1907.2 L1471.2 1922.2 Z" fill="#ff0000" stroke="#ff0000" stroke-width="3" stroke-linejoin="miter"/>
<path d="M1488.6 1913.5 L1476.2 1906 L1476.2 1921 Z" fill="#ff0000" stroke="#ff0000" stroke-width="3" stroke-linejoin="miter"/>
<path d="M1493.9 1913.2 L1481.5 1905.7 L1481.5 1920.7 Z" fill="#ff0000" stroke="#ff0000" stroke-width="3" stroke-linejoin="miter"/>
<path d="M1498.9 1913.8 L1486.5 1906.3 L1486.5 1921.3 Z" fill="#ff0000" stroke="#ff0000" stroke-width="3" stroke-linejoin="miter"/>
<path d="M1504.2 1912 L1491.9 1904.5 L1491.9 1919.5 Z" fill="#ff0000" stroke="#ff0000" stroke-width="3" stroke-linejoin="miter"/>
<path d="M1509.2 1911.8 L1496.9 1904.3 L1496.9 1919.3 Z" fill="#ff0000" stroke="#ff0000" stroke-width="3" stroke-linejoin="miter"/>
<path d="M1514.5 1912.8 L1502.2 1905.3 L1502.2 1920.3 Z" fill="#ff0000" stroke="#ff0000" stroke-width="3" stroke-linejoin="miter"/>
<path d="M1519.5 1915.4 L1507.2 1907.9 L1507.2 1922.9 Z" fill="#ff0000" stroke="#ff0000" stroke-width="3" stroke-linejoin="miter"/>
<path d="M1524.9 1910.4 L1512.5 1902.9 L1512.5 1917.9 Z" fill="#ff0000" stroke="#ff0000" stroke-width="3" stroke-linejoin="miter"/>
<path d="M1529.9 1911.3 L1517.5 1903.8 L1517.5 1918.8 Z" fill="#ff0000" stroke="#ff0000" stroke-width="3" stroke-linejoin="miter"/>
<path d="M1535.2 1907.7 L1522.8 1900.2 L1522.8 1915.2 Z" fill="#ff0000" stroke="#ff0000" stroke-width="3" stroke-linejoin="miter"/>
<path d="M1540.2 1908.9 L1527.8 1901.4 L1527.8 1916.4 Z" fill="#ff0000" stroke="#ff0000" stroke-width="3" stroke-linejoin="miter"/>
<path d="M1545.5 1910.1 L1533.1 1902.6 L1533.1 1917.6 Z" fill="#ff0000" stroke="#ff0000" stroke-width="3" stroke-linejoin="miter"/>
<path d="M1550.5 1913 L1538.1 1905.5 L1538.1 1920.5 Z" fill="#ff0000" stroke="#ff0000" stroke-width="3" stroke-linejoin="miter"/>
<path d="M1555.8 1910.4 L1543.5 1902.9 L1543.5 1917.9 Z" fill="#ff0000" stroke="#ff0000" stroke-width="3" stroke-linejoin="miter"/>
<path d="M1560.8 1909.1 L1548.5 1901.6 L1548.5 1916.6 Z" fill="#ff0000" stroke="#ff0000" stroke-width="3" stroke-linejoin="miter"/>
<path d="M1566.1 1907.6 L1553.8 1900.1 L1553.8 1915.1 Z" fill="#ff0000" stroke="#ff0000" stroke-width="3" stroke-linejoin="miter"/>
<path d="M1571.1 1908.6 L1558.8 1901.1 L1558.8 1916.1 Z" fill="#ff0000" stroke="#ff0000" stroke-width="3" stroke-linejoin="miter"/>
<path d="M1576.5 1905.2 L1564.1 1897.7 L1564.1 1912.7 Z" fill="#ff0000" stroke="#ff0000" stroke-width="3" stroke-linejoin="miter"/>
<path d="M1581.5 1905 L1569.1 1897.5 L1569.1 1912.5 Z" fill="#ff0000" stroke="#ff0000" stroke-width="3" stroke-linejoin="miter"/>
<path d="M1586.8 1905.4 L1574.4 1897.9 L1574.4 1912.9 Z" fill="#ff0000" stroke="#ff0000" stroke-width="3" stroke-linejoin="miter"/>
<path d="M1591.8 1903.1 L1579.4 1895.6 L1579.4 1910.6 Z" fill="#ff0000" stroke="#ff0000" stroke-width="3" stroke-linejoin="miter"/>
<path d="M1597.1 1904.3 L1584.7 1896.8 L1584.7 1911.8 Z" fill="#ff0000" stroke="#ff0000" stroke-width="3" stroke-linejoin="miter"/>
<path d="M1602.1 1905.9 L1589.7 1898.4 L1589.7 1913.4 Z" fill="#ff0000" stroke="#ff0000" stroke-width="3" stroke-linejoin="miter"/>
<path d="M1607.4 1904 L1595.1 1896.5 L1595.1 1911.5 Z" fill="#ff0000" stroke="#ff0000" stroke-width="3" stroke-linejoin="miter"/>
<path d="M1612.4 1902.5 L1600.1 1895 L1600.1 1910 Z" fill="#ff0000" stroke="#ff0000" stroke-width="3" stroke-linejoin="miter"/>
<path d="M1617.7 1904.8 L1605.4 1897.3 L1605.4 1912.3 Z" fill="#ff0000" stroke="#ff0000" stroke-width="3" stroke-linejoin="miter"/>
<path d="M1622.7 1907 L1610.4 1899.5 L1610.4 1914.5 Z" fill="#ff0000" stroke="#ff0000" stroke-width="3" stroke-linejoin="miter"/>
<path d="M1628.1 1902.7 L1615.7 1895.2 L1615.7 1910.2 Z" fill="#ff0000" stroke="#ff0000" stroke-width="3" stroke-linejoin="miter"/>
<path d="M1633.1 1902.4 L1620.7 1894.9 L1620.7 1909.9 Z" fill="#ff0000" stroke="#ff0000" stroke-width="3" stroke-linejoin="miter"/>
<path d="M1638.4 1904.4 L1626 1896.9 L1626 1911.9 Z" fill="#ff0000" stroke="#ff0000" stroke-width="3" stroke-linejoin="miter"/>
<path d="M1643.4 1906.7 L1631 1899.2 L1631 1914.2 Z" fill="#ff0000" stroke="#ff0000" stroke-width="3" stroke-linejoin="miter"/>
<path d="M1648.7 1905.2 L1636.3 1897.7 L1636.3 1912.7 Z" fill="#ff0000" stroke="#ff0000" stroke-width="3" stroke-linejoin="miter"/>
<path d="M1653.7 1907.4 L1641.3 1899.9 L1641.3 1914.9 Z" fill="#ff0000" stroke="#ff0000" stroke-width="3" stroke-linejoin="miter"/>
<path d="M1659 1901.9 L1646.6 1894.4 L1646.6 1909.4 Z" fill="#ff0000" stroke="#ff0000" stroke-width="3" stroke-linejoin="miter"/>
<path d="M1664 1901.4 L1651.6 1893.9 L1651.6 1908.9 Z" fill="#ff0000" stroke="#ff0000" stroke-width="3" stroke-linejoin="miter"/>
<path d="M1669.3 1901.8 L1657 1894.3 L1657 1909.3 Z" fill="#ff0000" stroke="#ff0000" stroke-width="3" stroke-linejoin="miter"/>
<path d="M1674.3 1904.1 L1662 1896.6 L1662 1911.6 Z" fill="#ff0000" stroke="#ff0000" stroke-width="3" stroke-linejoin="miter"/>
<path d="M1679.7 1904.2 L1667.3 1896.7 L1667.3 1911.7 Z" fill="#ff0000" stroke="#ff0000" stroke-width="3" stroke-linejoin="miter"/>
<path d="M1684.7 1902.1 L1672.3 1894.6 L1672.3 1909.6 Z" fill="#ff0000" stroke="#ff0000" stroke-width="3" stroke-linejoin="miter"/>
<path d="M1690 1899.7 L1677.6 1892.2 L1677.6 1907.2 Z" fill="#ff0000" stroke="#ff0000" stroke-width="3" stroke-linejoin="miter"/>
<path d="M1695 1898.1 L1682.6 1890.6 L1682.6 1905.6 Z" fill="#ff0000" stroke="#ff0000" stroke-width="3" stroke-linejoin="miter"/>
<path d="M1700.3 1899.4 L1687.9 1891.9 L1687.9 1906.9 Z" fill="#ff0000" stroke="#ff0000" stroke-width="3" stroke-linejoin="miter"/>
<path d="M1705.3 1899.3 L1692.9 1891.8 L1692.9 1906.8 Z" fill="#ff0000" stroke="#ff0000" stroke-width="3" stroke-linejoin="miter"/>
<path d="M1710.6 1900.6 L1698.2 1893.1 L1698.2 1908.1 Z" fill="#ff0000" stroke="#ff0000" stroke-width="3" stroke-linejoin="miter"/>
<path d="M1715.6 1899.2 L1703.2 1891.7 L1703.2 1906.7 Z" fill="#ff0000" stroke="#ff0000" stroke-width="3" stroke-linejoin="miter"/>
<path d="M1720.9 1897.1 L1708.6 1889.6 L1708.6 1904.6 Z" fill="#ff0000" stroke="#ff0000" stroke-width="3" stroke-linejoin="miter"/>
<path d="M1725.9 1896.6 L1713.6 1889.1 L1713.6 1904.1 Z" fill="#ff0000" stroke="#ff0000" stroke-width="3" stroke-linejoin="miter"/>
<path d="M1731.3 1898.4 L1718.9 1890.9 L1718.9 1905.9 Z" fill="#ff0000" stroke="#ff0000" stroke-width="3" stroke-linejoin="miter"/>
<path d="M1736.3 1898.8 L1723.9 1891.3 L1723.9 1906.3 Z" fill="#ff0000" stroke="#ff0000" stroke-width="3" stroke-linejoin="miter"/>
<path d="M1741.6 1900.7 L1729.2 1893.2 L1729.2 1908.2 Z" fill="#ff0000" stroke="#ff0000" stroke-width="3" stroke-linejoin="miter"/>
<path d="M1746.6 1901.9 L1734.2 1894.4 L1734.2 1909.4 Z" fill="#ff0000" stroke="#ff0000" stroke-width="3" stroke-linejoin="miter"/>
<path d="M1751.9 1897.9 L1739.5 1890.4 L1739.5 1905.4 Z" fill="#ff0000" stroke="#ff0000" stroke-width="3" stroke-linejoin="miter"/>
<path d="M1756.9 1898.7 L1744.5 1891.2 L1744.5 1906.2 Z" fill="#ff0000" stroke="#ff0000" stroke-width="3" stroke-linejoin="miter"/>
<path d="M1762.2 1898.2 L1749.8 1890.7 L1749.8 1905.7 Z" fill="#ff0000" stroke="#ff0000" stroke-width="3" stroke-linejoin="miter"/>
<path d="M1767.2 1895.5 L1754.8 1888 L1754.8 1903 Z" fill="#ff0000" stroke="#ff0000" stroke-width="3" stroke-linejoin="miter"/>
<path d="M1772.5 1898.7 L1760.2 1891.2 L1760.2 1906.2 Z" fill="#ff0000" stroke="#ff0000" stroke-width="3" stroke-linejoin="miter"/>
<path d="M1777.5 1900.4 L1765.2 1892.9 L1765.2 1907.9 Z" fill="#ff0000" stroke="#ff0000" stroke-width="3" stroke-linejoin="miter"/>
<path d="M1782.9 1898 L1770.5 1890.5 L1770.5 1905.5 Z" fill="#ff0000" stroke="#ff0000" stroke-width="3" stroke-linejoin="miter"/>
<path d="M1787.9 1899.8 L1775.5 1892.3 L1775.5 1907.3 Z" fill="#ff0000" stroke="#ff0000" stroke-width="3" stroke-linejoin="miter"/>
<path d="M1793.2 1895 L1780.8 1887.5 L1780.8 1902.5 Z" fill="#ff0000" stroke="#ff0000" stroke-width="3" stroke-linejoin="miter"/>
<path d="M1798.2 1894.4 L1785.8 1886.9 L1785.8 1901.9 Z" fill="#ff0000" stroke="#ff0000" stroke-width="3" stroke-linejoin="miter"/>
<path d="M1803.5 1893 L1791.1 1885.5 L1791.1 1900.5 Z" fill="#ff0000" stroke="#ff0000" stroke-width="3" stroke-linejoin="miter"/>
<path d="M1808.5 1893.8 L1796.1 1886.3 L1796.1 1901.3 Z" fill="#ff0000" stroke="#ff0000" stroke-width="3" stroke-linejoin="miter"/>
<rect x="1157.2" y="1901.2" width="18.6" height="18.6" fill="none" stroke="#0a0a0a" stroke-width="4.2"/>
<rect x="1167.5" y="1901.2" width="18.6" height="18.6" fill="none" stroke="#0a0a0a" stroke-width="4.2"/>
<rect x="1177.8" y="1901.2" width="18.6" height="18.6" fill="none" stroke="#0a0a0a" stroke-width="4.2"/>
<rect x="1188.2" y="1901.2" width="18.6" height="18.6" fill="none" stroke="#0a0a0a" stroke-width="4.2"/>
<rect x="1198.5" y="1901.2" width="18.6" height="18.6" fill="none" stroke="#0a0a0a" stroke-width="4.2"/>
<rect x="1208.8" y="1903.2" width="18.6" height="18.6" fill="none" stroke="#0a0a0a" stroke-width="4.2"/>
<rect x="1219.1" y="1905.2" width="18.6" height="18.6" fill="none" stroke="#0a0a0a" stroke-width="4.2"/>
<rect x="1229.4" y="1903.2" width="18.6" height="18.6" fill="none" stroke="#0a0a0a" stroke-width="4.2"/>
<rect x="1239.8" y="1902.2" width="18.6" height="18.6" fill="none" stroke="#0a0a0a" stroke-width="4.2"/>
<rect x="1250.1" y="1902.2" width="18.6" height="18.6" fill="none" stroke="#0a0a0a" stroke-width="4.2"/>
<rect x="1260.4" y="1900.2" width="18.6" height="18.6" fill="none" stroke="#0a0a0a" stroke-width="4.2"/>
<rect x="1270.7" y="1898.2" width="18.6" height="18.6" fill="none" stroke="#0a0a0a" stroke-width="4.2"/>
<rect x="1281" y="1897.2" width="18.6" height="18.6" fill="none" stroke="#0a0a0a" stroke-width="4.2"/>
<rect x="1291.4" y="1898.2" width="18.6" height="18.6" fill="none" stroke="#0a0a0a" stroke-width="4.2"/>
<rect x="1301.7" y="1900.2" width="18.6" height="18.6" fill="none" stroke="#0a0a0a" stroke-width="4.2"/>
<rect x="1312" y="1901.2" width="18.6" height="18.6" fill="none" stroke="#0a0a0a" stroke-width="4.2"/>
<rect x="1322.3" y="1901.2" width="18.6" height="18.6" fill="none" stroke="#0a0a0a" stroke-width="4.2"/>
<rect x="1332.6" y="1902.2" width="18.6" height="18.6" fill="none" stroke="#0a0a0a" stroke-width="4.2"/>
<rect x="1343" y="1901.2" width="18.6" height="18.6" fill="none" stroke="#0a0a0a" stroke-width="4.2"/>
<rect x="1353.3" y="1901.2" width="18.6" height="18.6" fill="none" stroke="#0a0a0a" stroke-width="4.2"/>
<rect x="1363.6" y="1901.2" width="18.6" height="18.6" fill="none" stroke="#0a0a0a" stroke-width="4.2"/>
<rect x="1373.9" y="1901.2" width="18.6" height="18.6" fill="none" stroke="#0a0a0a" stroke-width="4.2"/>
<rect x="1384.2" y="1903.2" width="18.6" height="18.6" fill="none" stroke="#0a0a0a" stroke-width="4.2"/>
<rect x="1394.6" y="1909.2" width="18.6" height="18.6" fill="none" stroke="#0a0a0a" stroke-width="4.2"/>
<rect x="1404.9" y="1904.2" width="18.6" height="18.6" fill="none" stroke="#0a0a0a" stroke-width="4.2"/>
<rect x="1415.2" y="1897.2" width="18.6" height="18.6" fill="none" stroke="#0a0a0a" stroke-width="4.2"/>
<rect x="1425.5" y="1897.2" width="18.6" height="18.6" fill="none" stroke="#0a0a0a" stroke-width="4.2"/>
<rect x="1435.8" y="1899.2" width="18.6" height="18.6" fill="none" stroke="#0a0a0a" stroke-width="4.2"/>
<rect x="1446.2" y="1901.2" width="18.6" height="18.6" fill="none" stroke="#0a0a0a" stroke-width="4.2"/>
<rect x="1456.5" y="1901.2" width="18.6" height="18.6" fill="none" stroke="#0a0a0a" stroke-width="4.2"/>
<rect x="1466.8" y="1901.2" width="18.6" height="18.6" fill="none" stroke="#0a0a0a" stroke-width="4.2"/>
<rect x="1477.1" y="1901.2" width="18.6" height="18.6" fill="none" stroke="#0a0a0a" stroke-width="4.2"/>
<rect x="1487.4" y="1901.2" width="18.6" height="18.6" fill="none" stroke="#0a0a0a" stroke-width="4.2"/>
<rect x="1497.7" y="1902.2" width="18.6" height="18.6" fill="none" stroke="#0a0a0a" stroke-width="4.2"/>
<rect x="1508.1" y="1901.2" width="18.6" height="18.6" fill="none" stroke="#0a0a0a" stroke-width="4.2"/>
<rect x="1518.4" y="1900.2" width="18.6" height="18.6" fill="none" stroke="#0a0a0a" stroke-width="4.2"/>
<rect x="1528.7" y="1899.2" width="18.6" height="18.6" fill="none" stroke="#0a0a0a" stroke-width="4.2"/>
<rect x="1539" y="1899.2" width="18.6" height="18.6" fill="none" stroke="#0a0a0a" stroke-width="4.2"/>
<rect x="1549.3" y="1901.2" width="18.6" height="18.6" fill="none" stroke="#0a0a0a" stroke-width="4.2"/>
<rect x="1559.7" y="1901.2" width="18.6" height="18.6" fill="none" stroke="#0a0a0a" stroke-width="4.2"/>
<rect x="1570" y="1902.2" width="18.6" height="18.6" fill="none" stroke="#0a0a0a" stroke-width="4.2"/>
<rect x="1580.3" y="1901.2" width="18.6" height="18.6" fill="none" stroke="#0a0a0a" stroke-width="4.2"/>
<rect x="1590.6" y="1901.2" width="18.6" height="18.6" fill="none" stroke="#0a0a0a" stroke-width="4.2"/>
<rect x="1600.9" y="1900.2" width="18.6" height="18.6" fill="none" stroke="#0a0a0a" stroke-width="4.2"/>
<rect x="1611.3" y="1900.2" width="18.6" height="18.6" fill="none" stroke="#0a0a0a" stroke-width="4.2"/>
<rect x="1621.6" y="1901.2" width="18.6" height="18.6" fill="none" stroke="#0a0a0a" stroke-width="4.2"/>
<rect x="1631.9" y="1901.2" width="18.6" height="18.6" fill="none" stroke="#0a0a0a" stroke-width="4.2"/>
<rect x="1642.2" y="1901.2" width="18.6" height="18.6" fill="none" stroke="#0a0a0a" stroke-width="4.2"/>
<rect x="1652.5" y="1899.2" width="18.6" height="18.6" fill="none" stroke="#0a0a0a" stroke-width="4.2"/>
<rect x="1662.9" y="1898.2" width="18.6" height="18.6" fill="none" stroke="#0a0a0a" stroke-width="4.2"/>
<rect x="1673.2" y="1901.2" width="18.6" height="18.6" fill="none" stroke="#0a0a0a" stroke-width="4.2"/>
<rect x="1683.5" y="1907.2" width="18.6" height="18.6" fill="none" stroke="#0a0a0a" stroke-width="4.2"/>
<rect x="1693.8" y="1901.2" width="18.6" height="18.6" fill="none" stroke="#0a0a0a" stroke-width="4.2"/>
<rect x="1704.1" y="1900.2" width="18.6" height="18.6" fill="none" stroke="#0a0a0a" stroke-width="4.2"/>
<rect x="1714.5" y="1901.2" width="18.6" height="18.6" fill="none" stroke="#0a0a0a" stroke-width="4.2"/>
<rect x="1724.8" y="1901.2" width="18.6" height="18.6" fill="none" stroke="#0a0a0a" stroke-width="4.2"/>
<rect x="1735.1" y="1901.2" width="18.6" height="18.6" fill="none" stroke="#0a0a0a" stroke-width="4.2"/>
<rect x="1745.4" y="1902.2" width="18.6" height="18.6" fill="none" stroke="#0a0a0a" stroke-width="4.2"/>
<rect x="1755.7" y="1903.2" width="18.6" height="18.6" fill="none" stroke="#0a0a0a" stroke-width="4.2"/>
<rect x="1766.1" y="1902.2" width="18.6" height="18.6" fill="none" stroke="#0a0a0a" stroke-width="4.2"/>
<rect x="1776.4" y="1902.2" width="18.6" height="18.6" fill="none" stroke="#0a0a0a" stroke-width="4.2"/>
<rect x="1786.7" y="1902.2" width="18.6" height="18.6" fill="none" stroke="#0a0a0a" stroke-width="4.2"/>
</g>
<line x1="1160.5" y1="1820" x2="1798" y2="1820" stroke="#0a0a0a" stroke-width="6"/>
<rect x="1160.5" y="1534.7" width="637.5" height="568.1" fill="none" stroke="#0a0a0a" stroke-width="7"/>
<line x1="1180" y1="2102.8" x2="1180" y2="2082.8" stroke="#0a0a0a" stroke-width="6"/>
<line x1="1382.6" y1="2102.8" x2="1382.6" y2="2082.8" stroke="#0a0a0a" stroke-width="6"/>
<line x1="1585.3" y1="2102.8" x2="1585.3" y2="2082.8" stroke="#0a0a0a" stroke-width="6"/>
<line x1="1788" y1="2102.8" x2="1788" y2="2082.8" stroke="#0a0a0a" stroke-width="6"/>
<line x1="1281.3" y1="2102.8" x2="1281.3" y2="2093.8" stroke="#0a0a0a" stroke-width="6"/>
<line x1="1484" y1="2102.8" x2="1484" y2="2093.8" stroke="#0a0a0a" stroke-width="6"/>
<line x1="1686.6" y1="2102.8" x2="1686.6" y2="2093.8" stroke="#0a0a0a" stroke-width="6"/>
<line x1="1160.5" y1="1560" x2="1180.5" y2="1560" stroke="#0a0a0a" stroke-width="5.5"/>
<line x1="1160.5" y1="1688.8" x2="1180.5" y2="1688.8" stroke="#0a0a0a" stroke-width="5.5"/>
<line x1="1160.5" y1="1817.5" x2="1180.5" y2="1817.5" stroke="#0a0a0a" stroke-width="5.5"/>
<line x1="1160.5" y1="1623.3" x2="1160.5" y2="1623.3" stroke="#0a0a0a" stroke-width="5.5"/>
<line x1="1160.5" y1="1752.8" x2="1160.5" y2="1752.8" stroke="#0a0a0a" stroke-width="5.5"/>
<line x1="1160.5" y1="1901.1" x2="1180.5" y2="1901.1" stroke="#0a0a0a" stroke-width="5.5"/>
<line x1="1160.5" y1="2063.1" x2="1180.5" y2="2063.1" stroke="#0a0a0a" stroke-width="5.5"/>
<line x1="1160.5" y1="1982.1" x2="1170.5" y2="1982.1" stroke="#0a0a0a" stroke-width="5.5"/>
<line x1="1795" y1="1972" x2="1795" y2="1994" stroke="#0a0a0a" stroke-width="5"/>
<text x="1180" y="2155" font-size="36.8" text-anchor="middle" fill="#0a0a0a" stroke="#fff" stroke-width="0.45">0.2</text>
<text x="1382.6" y="2155" font-size="36.8" text-anchor="middle" fill="#0a0a0a" stroke="#fff" stroke-width="0.45">0.4</text>
<text x="1585.3" y="2155" font-size="36.8" text-anchor="middle" fill="#0a0a0a" stroke="#fff" stroke-width="0.45">0.6</text>
<text x="1788" y="2155" font-size="36.8" text-anchor="middle" fill="#0a0a0a" stroke="#fff" stroke-width="0.45">0.8</text>
<text x="1136.5" y="1570.5" font-size="37" text-anchor="end" fill="#0a0a0a" stroke="#fff" stroke-width="0.45">0.2</text>
<text x="1136.5" y="1699.3" font-size="37" text-anchor="end" fill="#0a0a0a" stroke="#fff" stroke-width="0.45">0.1</text>
<text x="1136.5" y="1828" font-size="37" text-anchor="end" fill="#0a0a0a" stroke="#fff" stroke-width="0.45">0.0</text>
<text x="1137.5" y="1912.6" font-size="37" text-anchor="end" fill="#0a0a0a" stroke="#fff" stroke-width="0.45">4.00</text>
<text x="1137.5" y="2074.6" font-size="37" text-anchor="end" fill="#0a0a0a" stroke="#fff" stroke-width="0.45">3.98</text>
<text x="1264.8" y="2198.5" font-size="43.5" text-anchor="start" fill="#0a0a0a" textLength="429.5" lengthAdjust="spacingAndGlyphs" stroke="#fff" stroke-width="0.55">Potential (V vs. RHE)</text>
<text transform="translate(1042 1672) rotate(-90)" font-size="44.5" text-anchor="middle" fill="#0a0a0a" font-weight="normal" style="font-weight:normal">Y<tspan font-size="29.5" dy="13.8">H2O2</tspan><tspan dy="-13.8"> (%)</tspan></text>
<text transform="translate(1042 1961.5) rotate(-90)" font-size="44" text-anchor="middle" fill="#0a0a0a" style="font-weight:normal">n</text>
<line x1="1344.8" y1="1997" x2="1417.4" y2="1997" stroke="#ff0000" stroke-width="4.5"/>
<path d="M1391 1997 L1371.2 1985 L1371.2 2009 Z" fill="#fff" stroke="#ff0000" stroke-width="4.5" stroke-linejoin="miter"/>
<line x1="1344.8" y1="2042.9" x2="1417.4" y2="2042.9" stroke="#0a0a0a" stroke-width="5"/>
<rect x="1372" y="2033.2" width="19.4" height="19.4" fill="#fff" stroke="#0a0a0a" stroke-width="4.6"/>
<text x="1468.6" y="2009" font-size="36.5" text-anchor="start" fill="#0a0a0a" stroke="#fff" stroke-width="0.45">PtC</text>
<text x="1468.6" y="2054.3" font-size="36.3" text-anchor="start" fill="#0a0a0a" textLength="259" lengthAdjust="spacingAndGlyphs" stroke="#fff" stroke-width="0.45">Fe<tspan font-size="22.5" dy="8.7">3</tspan><tspan dy="-8.7">N@CNT/CC</tspan></text>
<text x="23.8" y="2229.8" font-size="72" text-anchor="start" fill="#0a0a0a" textLength="104" lengthAdjust="spacingAndGlyphs" >(g)</text>
<clipPath id="cg"><rect x="215.3" y="2256.6" width="639.9" height="564.4"/></clipPath><g clip-path="url(#cg)">
<circle cx="234.8" cy="2333.1" r="6.3" fill="url(#gr)"/>
<circle cx="249.3" cy="2334.3" r="6.3" fill="url(#gr)"/>
<circle cx="263.8" cy="2322.8" r="6.3" fill="url(#gr)"/>
<circle cx="278.4" cy="2327.1" r="6.3" fill="url(#gr)"/>
<circle cx="292.3" cy="2327.1" r="6.3" fill="url(#gr)"/>
<circle cx="306.8" cy="2324.1" r="6.3" fill="url(#gr)"/>
<circle cx="321.3" cy="2325.9" r="6.3" fill="url(#gr)"/>
<circle cx="335.9" cy="2336.8" r="6.3" fill="url(#gr)"/>
<circle cx="349.8" cy="2318" r="6.3" fill="url(#gr)"/>
<circle cx="364.3" cy="2302.9" r="6.3" fill="url(#gr)"/>
<circle cx="378.8" cy="2328.3" r="6.3" fill="url(#gr)"/>
<circle cx="393.4" cy="2313.8" r="6.3" fill="url(#gr)"/>
<circle cx="407.9" cy="2310.7" r="6.3" fill="url(#gr)"/>
<circle cx="421.8" cy="2308.9" r="6.3" fill="url(#gr)"/>
<circle cx="436.3" cy="2321" r="6.3" fill="url(#gr)"/>
<circle cx="450.8" cy="2334.3" r="6.3" fill="url(#gr)"/>
<circle cx="465.4" cy="2318" r="6.3" fill="url(#gr)"/>
<circle cx="479.9" cy="2322.2" r="6.3" fill="url(#gr)"/>
<circle cx="494.4" cy="2310.1" r="6.3" fill="url(#gr)"/>
<circle cx="508.3" cy="2305.9" r="6.3" fill="url(#gr)"/>
<circle cx="522.9" cy="2316.8" r="6.3" fill="url(#gr)"/>
<circle cx="537.4" cy="2302.9" r="6.3" fill="url(#gr)"/>
<circle cx="551.9" cy="2308.9" r="6.3" fill="url(#gr)"/>
<circle cx="566.4" cy="2310.7" r="6.3" fill="url(#gr)"/>
<circle cx="581" cy="2310.7" r="6.3" fill="url(#gr)"/>
<circle cx="594.9" cy="2312" r="6.3" fill="url(#gr)"/>
<circle cx="609.4" cy="2319.2" r="6.3" fill="url(#gr)"/>
<circle cx="623.9" cy="2340.4" r="6.3" fill="url(#gr)"/>
<circle cx="638.4" cy="2343.4" r="6.3" fill="url(#gr)"/>
<circle cx="652.4" cy="2338" r="6.3" fill="url(#gr)"/>
<circle cx="666.9" cy="2354.3" r="6.3" fill="url(#gr)"/>
<circle cx="681.4" cy="2339.2" r="6.3" fill="url(#gr)"/>
<circle cx="695.9" cy="2342.2" r="6.3" fill="url(#gr)"/>
<circle cx="710.5" cy="2348.3" r="6.3" fill="url(#gr)"/>
<circle cx="724.4" cy="2340.4" r="6.3" fill="url(#gr)"/>
<circle cx="738.9" cy="2351.3" r="6.3" fill="url(#gr)"/>
<circle cx="753.4" cy="2339.2" r="6.3" fill="url(#gr)"/>
<circle cx="767.9" cy="2333.1" r="6.3" fill="url(#gr)"/>
<circle cx="781.9" cy="2344" r="6.3" fill="url(#gr)"/>
<circle cx="796.4" cy="2348.3" r="6.3" fill="url(#gr)"/>
<circle cx="810.9" cy="2350.1" r="6.3" fill="url(#gr)"/>
<circle cx="824.8" cy="2357.3" r="6.3" fill="url(#gr)"/>
<circle cx="839.4" cy="2348.3" r="6.3" fill="url(#gr)"/>
<circle cx="852.1" cy="2363.4" r="6.3" fill="url(#gr)"/>
<circle cx="221" cy="2313.8" r="6.3" fill="url(#gr)"/>
<circle cx="234.8" cy="2351.3" r="6.3" fill="url(#gb)"/>
<circle cx="249.3" cy="2358.6" r="6.3" fill="url(#gb)"/>
<circle cx="263.8" cy="2348.3" r="6.3" fill="url(#gb)"/>
<circle cx="278.4" cy="2345.2" r="6.3" fill="url(#gb)"/>
<circle cx="292.3" cy="2348.3" r="6.3" fill="url(#gb)"/>
<circle cx="306.8" cy="2360.4" r="6.3" fill="url(#gb)"/>
<circle cx="321.3" cy="2364.6" r="6.3" fill="url(#gb)"/>
<circle cx="335.9" cy="2353.1" r="6.3" fill="url(#gb)"/>
<circle cx="349.8" cy="2365.2" r="6.3" fill="url(#gb)"/>
<circle cx="364.3" cy="2372.5" r="6.3" fill="url(#gb)"/>
<circle cx="378.8" cy="2382.8" r="6.3" fill="url(#gb)"/>
<circle cx="393.4" cy="2389.4" r="6.3" fill="url(#gb)"/>
<circle cx="407.9" cy="2402.7" r="6.3" fill="url(#gb)"/>
<circle cx="421.8" cy="2394.9" r="6.3" fill="url(#gb)"/>
<circle cx="436.3" cy="2390.6" r="6.3" fill="url(#gb)"/>
<circle cx="450.8" cy="2393.7" r="6.3" fill="url(#gb)"/>
<circle cx="465.4" cy="2396.7" r="6.3" fill="url(#gb)"/>
<circle cx="479.9" cy="2388.8" r="6.3" fill="url(#gb)"/>
<circle cx="494.4" cy="2403.9" r="6.3" fill="url(#gb)"/>
<circle cx="508.3" cy="2422.7" r="6.3" fill="url(#gb)"/>
<circle cx="522.9" cy="2421.5" r="6.3" fill="url(#gb)"/>
<circle cx="537.4" cy="2428.1" r="6.3" fill="url(#gb)"/>
<circle cx="551.9" cy="2443.3" r="6.3" fill="url(#gb)"/>
<circle cx="566.4" cy="2439" r="6.3" fill="url(#gb)"/>
<circle cx="581" cy="2439" r="6.3" fill="url(#gb)"/>
<circle cx="594.9" cy="2445.1" r="6.3" fill="url(#gb)"/>
<circle cx="609.4" cy="2457.2" r="6.3" fill="url(#gb)"/>
<circle cx="623.9" cy="2454.2" r="6.3" fill="url(#gb)"/>
<circle cx="638.4" cy="2454.2" r="6.3" fill="url(#gb)"/>
<circle cx="652.4" cy="2461.4" r="6.3" fill="url(#gb)"/>
<circle cx="666.9" cy="2469.3" r="6.3" fill="url(#gb)"/>
<circle cx="681.4" cy="2476.6" r="6.3" fill="url(#gb)"/>
<circle cx="695.9" cy="2481.4" r="6.3" fill="url(#gb)"/>
<circle cx="710.5" cy="2485.6" r="6.3" fill="url(#gb)"/>
<circle cx="724.4" cy="2490.5" r="6.3" fill="url(#gb)"/>
<circle cx="738.9" cy="2497.7" r="6.3" fill="url(#gb)"/>
<circle cx="753.4" cy="2496.5" r="6.3" fill="url(#gb)"/>
<circle cx="767.9" cy="2497.7" r="6.3" fill="url(#gb)"/>
<circle cx="781.9" cy="2511.7" r="6.3" fill="url(#gb)"/>
<circle cx="796.4" cy="2518.9" r="6.3" fill="url(#gb)"/>
<circle cx="810.9" cy="2515.9" r="6.3" fill="url(#gb)"/>
<circle cx="824.8" cy="2520.7" r="6.3" fill="url(#gb)"/>
<circle cx="839.4" cy="2525" r="6.3" fill="url(#gb)"/>
<circle cx="852.1" cy="2526.8" r="6.3" fill="url(#gb)"/>
<circle cx="222" cy="2313.8" r="6.3" fill="url(#gb)"/>
</g>
<rect x="215.3" y="2256.6" width="637.9" height="564.4" fill="none" stroke="#0a0a0a" stroke-width="7"/>
<line x1="508.2" y1="2821" x2="508.2" y2="2801" stroke="#0a0a0a" stroke-width="5.5"/>
<line x1="795" y1="2821" x2="795" y2="2801" stroke="#0a0a0a" stroke-width="5.5"/>
<line x1="364.9" y1="2821" x2="364.9" y2="2811" stroke="#0a0a0a" stroke-width="5.5"/>
<line x1="651.6" y1="2821" x2="651.6" y2="2811" stroke="#0a0a0a" stroke-width="5.5"/>
<line x1="215.3" y1="2313.8" x2="235.3" y2="2313.8" stroke="#0a0a0a" stroke-width="5.5"/>
<line x1="215.3" y1="2561" x2="235.3" y2="2561" stroke="#0a0a0a" stroke-width="5.5"/>
<line x1="215.3" y1="2808.2" x2="235.3" y2="2808.2" stroke="#0a0a0a" stroke-width="5.5"/>
<line x1="215.3" y1="2437.4" x2="224.3" y2="2437.4" stroke="#0a0a0a" stroke-width="5.5"/>
<line x1="215.3" y1="2684.6" x2="224.3" y2="2684.6" stroke="#0a0a0a" stroke-width="5.5"/>
<text x="220.6" y="2866.5" font-size="36" text-anchor="middle" fill="#0a0a0a" stroke="#fff" stroke-width="0.35">0</text>
<text x="499" y="2866.5" font-size="36" text-anchor="middle" fill="#0a0a0a" stroke="#fff" stroke-width="0.35">5000</text>
<text x="791.5" y="2866.5" font-size="36" text-anchor="middle" fill="#0a0a0a" stroke="#fff" stroke-width="0.35">10,000</text>
<text x="190.3" y="2325.1" font-size="36" text-anchor="end" fill="#0a0a0a" stroke="#fff" stroke-width="0.35">100</text>
<text x="190.3" y="2572.3" font-size="36" text-anchor="end" fill="#0a0a0a" stroke="#fff" stroke-width="0.35">80</text>
<text x="190.3" y="2819.5" font-size="36" text-anchor="end" fill="#0a0a0a" stroke="#fff" stroke-width="0.35">60</text>
<text x="534" y="2921" font-size="47.3" text-anchor="middle" fill="#0a0a0a" >Time (s)</text>
<text transform="translate(95.5 2539) rotate(-90)" font-size="46" text-anchor="middle" fill="#0a0a0a" stroke="#fff" stroke-width="0.35">j/j<tspan font-size="31" dy="9">0</tspan><tspan dy="-9"> (%)</tspan></text>
<circle cx="510" cy="2624" r="6.3" fill="url(#gr)"/>
<circle cx="510" cy="2679" r="6.3" fill="url(#gb)"/>
<text x="553" y="2632" font-size="36.3" text-anchor="start" fill="#ff1a1a" textLength="259" lengthAdjust="spacingAndGlyphs" stroke="#fff" stroke-width="0.15">Fe<tspan font-size="22.5" dy="8.7">3</tspan><tspan dy="-8.7">N@CNT/CC</tspan></text>
<text x="546" y="2686" font-size="36" text-anchor="start" fill="#14148a" stroke="#fff" stroke-width="0.15">Pt/C</text>
<text x="970.6" y="2233.8" font-size="72" text-anchor="start" fill="#0a0a0a" textLength="104" lengthAdjust="spacingAndGlyphs" >(h)</text>
<path d="M1163.1 2726.5 C1167.1 2725 1178.2 2720.9 1187.3 2717.4 C1196.4 2713.9 1207.5 2709.3 1217.6 2705.3 C1227.7 2701.3 1237.8 2696.2 1247.8 2693.2 C1257.9 2690.2 1268 2688.9 1278.1 2687.2 C1288.2 2685.4 1298.3 2684.1 1308.4 2682.9 C1318.4 2681.7 1328.5 2680.6 1338.6 2679.9 C1348.7 2679.2 1358.8 2679 1368.9 2678.7 C1379 2678.4 1389 2678.5 1399.1 2678.1 C1409.2 2677.7 1419.3 2677.6 1429.4 2676.3 C1439.5 2674.9 1449.6 2673.1 1459.6 2670.2 C1469.7 2667.3 1479.8 2662.9 1489.9 2658.7 C1500 2654.5 1510.1 2648.8 1520.2 2644.8 C1530.2 2640.8 1541.3 2639 1550.4 2634.5 C1559.5 2630 1566.6 2623.9 1574.6 2617.6 C1582.7 2611.2 1591.3 2604.4 1598.8 2596.4 C1606.4 2588.3 1613.5 2579.2 1620 2569.1 C1626.6 2559.1 1632.1 2548 1638.2 2535.9 C1644.2 2523.8 1650.3 2509.1 1656.3 2496.5 C1662.4 2483.9 1668.9 2472.8 1674.5 2460.2 C1680 2447.6 1685.1 2434 1689.6 2420.9 C1694.1 2407.8 1697.7 2393.7 1701.7 2381.5 C1705.7 2369.4 1709.3 2357.8 1713.8 2348.3 C1718.3 2338.7 1723.4 2330.6 1728.9 2324.1 C1734.5 2317.5 1740.5 2313 1747.1 2308.9 C1753.6 2304.9 1761.7 2302.7 1768.3 2299.9 C1774.8 2297 1781.2 2293.8 1786.4 2292 C1791.7 2290.2 1797.5 2289.5 1799.7 2289" fill="none" stroke="#0a0a0a" stroke-width="4.6" />
<path d="M1163.1 2719.2 L1165.8 2718.1 L1169.6 2717.2 L1174.1 2716.9 L1178.8 2713.7 L1183.4 2712.4 L1187.3 2711.7 L1190.8 2709.7 L1194 2710.7 L1197.2 2711.1 L1200.1 2711.8 L1202.9 2709.1 L1205.5 2709.4 L1207.6 2707.9 L1209.3 2709.5 L1210.8 2708 L1212.4 2704.4 L1214.6 2706.5 L1217.6 2705.2 L1221.6 2702.7 L1226.3 2701 L1231.6 2697.8 L1237.1 2695.8 L1242.6 2696.3 L1247.8 2693.4 L1253.1 2692.9 L1258.6 2692.2 L1264.1 2690.7 L1269.4 2691.7 L1274.1 2691.2 L1278.1 2692.6 L1281.1 2691.9 L1283.3 2693.4 L1284.9 2694.1 L1286.4 2695.9 L1288 2696 L1290.2 2695.4 L1292.8 2697.2 L1295.6 2695.7 L1298.5 2693.3 L1301.6 2690.9 L1304.9 2687.7 L1308.4 2686.2 L1312 2685.8 L1316 2684.8 L1320.1 2687.2 L1324.3 2686 L1328.5 2687.5 L1332.6 2685.5 L1336.7 2686.9 L1340.9 2685.6 L1345 2681.5 L1349.1 2681.2 L1353.1 2683 L1356.8 2681 L1360.1 2682.9 L1363 2681.3 L1365.8 2680.8 L1368.6 2683.5 L1371.6 2684.7 L1374.9 2683.3 L1378.5 2682.8 L1382.3 2683.8 L1386.3 2686.1 L1390.4 2685.3 L1394.7 2682.9 L1399.1 2683.2 L1403.8 2682.6 L1408.8 2682.4 L1413.9 2685 L1419.1 2682.6 L1424.3 2683.7 L1429.4 2682.7 L1434.6 2681 L1440.1 2682 L1445.6 2678.6 L1450.9 2679.2 L1455.7 2676.1 L1459.6 2676 L1462.7 2673.9 L1465 2672.7 L1466.8 2673.8 L1468.4 2671.9 L1469.9 2669 L1471.7 2670.4 L1473.6 2667.8 L1475.3 2668.9 L1477 2671.2 L1478.9 2671.1 L1481.1 2669.5 L1483.8 2672.6 L1487.2 2669.1 L1491 2668.3 L1495.2 2668.9 L1499.5 2665.8 L1503.9 2664.1 L1508.1 2661.4 L1512.1 2659.3 L1516.1 2658.5 L1520.2 2654.5 L1524.2 2653 L1528.2 2649.6 L1532.3 2647.6 L1536.3 2647.7 L1540.3 2644.5 L1544.4 2643.5 L1548.4 2643.3 L1552.4 2639.4 L1556.5 2637.5 L1560.5 2638.1 L1564.5 2635.4 L1568.6 2630.8 L1572.6 2628 L1576.6 2627.2 L1580.7 2625.2 L1584.7 2619.7 L1588.9 2619.5 L1593 2616.3 L1597 2612.2 L1601 2608.4 L1604.9 2604 L1608.6 2600.5 L1612.3 2600.6 L1615.8 2594.7 L1619.3 2592.9 L1622.7 2587.5 L1626.1 2585.4 L1629.3 2580.2 L1632.3 2574.3 L1635.3 2568.9 L1638.3 2565.7 L1640.9 2558.8 L1644.6 2554.1 L1647 2548.5 L1649.9 2543.1 L1653 2535.7 L1655.8 2530.2 L1659.2 2523.5 L1661.9 2517.8 L1665.9 2511.1 L1668.7 2505.6 L1671.7 2498.5 L1674.1 2491 L1678.2 2484.2 L1681.1 2478.7 L1683.4 2471.1 L1686.2 2465.2 L1689.1 2458.4 L1691 2451.5 L1693.8 2446 L1695.9 2439.4 L1698.3 2432.9 L1700.1 2425.6 L1702.3 2419.8 L1704.2 2412.5 L1705.9 2406.7 L1707.6 2399.9 L1709.9 2393.5 L1712 2386.4 L1714.3 2381.6 L1715.7 2375.1 L1717.9 2369.3 L1720.3 2363.3 L1722.1 2357.6 L1723.9 2352.7 L1725.4 2348.8 L1727.7 2344.8 L1730.3 2340.4 L1731.4 2335.8 L1734.5 2331.9 L1736.2 2327.9 L1739.2 2325.3 L1742 2321.1 L1744.4 2317.7 L1747 2314.5 L1750.8 2312.7 L1753.7 2310.4 L1757.3 2307.6 L1761.2 2304.8 L1765.3 2304 L1768.8 2302 L1771.1 2299.6 L1774.5 2298.4 L1777.7 2296.7 L1780.8 2296.2 L1784.1 2294.6 L1786.4 2294.6 L1788.5 2292.1 L1791.2 2292.4 L1794.3 2291.2 L1796.8 2289.8 L1797.9 2288.7 L1799.7 2289" fill="none" stroke="#ff0a0a" stroke-width="4.4" stroke-linejoin="round"/>
<rect x="1162.6" y="2252.6" width="637.4" height="567.1" fill="none" stroke="#0a0a0a" stroke-width="7"/>
<line x1="1206.7" y1="2819.7" x2="1206.7" y2="2799.7" stroke="#0a0a0a" stroke-width="6"/>
<line x1="1386.8" y1="2819.7" x2="1386.8" y2="2799.7" stroke="#0a0a0a" stroke-width="6"/>
<line x1="1567" y1="2819.7" x2="1567" y2="2799.7" stroke="#0a0a0a" stroke-width="6"/>
<line x1="1747.1" y1="2819.7" x2="1747.1" y2="2799.7" stroke="#0a0a0a" stroke-width="6"/>
<line x1="1296.8" y1="2819.7" x2="1296.8" y2="2809.7" stroke="#0a0a0a" stroke-width="6"/>
<line x1="1476.9" y1="2819.7" x2="1476.9" y2="2809.7" stroke="#0a0a0a" stroke-width="6"/>
<line x1="1657" y1="2819.7" x2="1657" y2="2809.7" stroke="#0a0a0a" stroke-width="6"/>
<line x1="1162.6" y1="2292.4" x2="1182.6" y2="2292.4" stroke="#0a0a0a" stroke-width="5.5"/>
<line x1="1162.6" y1="2454.6" x2="1182.6" y2="2454.6" stroke="#0a0a0a" stroke-width="5.5"/>
<line x1="1162.6" y1="2616.8" x2="1182.6" y2="2616.8" stroke="#0a0a0a" stroke-width="5.5"/>
<line x1="1162.6" y1="2779" x2="1182.6" y2="2779" stroke="#0a0a0a" stroke-width="5.5"/>
<line x1="1162.6" y1="2373.2" x2="1171.6" y2="2373.2" stroke="#0a0a0a" stroke-width="5.5"/>
<line x1="1162.6" y1="2535.5" x2="1171.6" y2="2535.5" stroke="#0a0a0a" stroke-width="5.5"/>
<line x1="1162.6" y1="2697.8" x2="1171.6" y2="2697.8" stroke="#0a0a0a" stroke-width="5.5"/>
<text x="1206.7" y="2868.6" font-size="36.8" text-anchor="middle" fill="#0a0a0a" stroke="#fff" stroke-width="0.15">0.4</text>
<text x="1386.8" y="2868.6" font-size="36.8" text-anchor="middle" fill="#0a0a0a" stroke="#fff" stroke-width="0.15">0.6</text>
<text x="1567" y="2868.6" font-size="36.8" text-anchor="middle" fill="#0a0a0a" stroke="#fff" stroke-width="0.15">0.8</text>
<text x="1747.1" y="2868.6" font-size="36.8" text-anchor="middle" fill="#0a0a0a" stroke="#fff" stroke-width="0.15">1.0</text>
<text x="1144.3" y="2303.9" font-size="36.8" text-anchor="end" fill="#0a0a0a" stroke="#fff" stroke-width="0.15">0</text>
<text x="1144.3" y="2466.1" font-size="36.8" text-anchor="end" fill="#0a0a0a" stroke="#fff" stroke-width="0.15">-2</text>
<text x="1144.3" y="2628.3" font-size="36.8" text-anchor="end" fill="#0a0a0a" stroke="#fff" stroke-width="0.15">-4</text>
<text x="1144.3" y="2790.5" font-size="36.8" text-anchor="end" fill="#0a0a0a" stroke="#fff" stroke-width="0.15">-6</text>
<text x="1482" y="2925" font-size="47.6" text-anchor="middle" fill="#0a0a0a" >Potential (V vs. RHE)</text>
<text transform="translate(1041.8 2537) rotate(-90)" font-size="47.3" text-anchor="middle" fill="#0a0a0a" stroke="#fff" stroke-width="0.5">j (mA·cm<tspan font-size="32.5" dy="-19">−2</tspan><tspan dy="19">)</tspan></text>
<text x="1534" y="2459.5" font-size="36.8" text-anchor="start" fill="#0a0a0a" stroke="#fff" stroke-width="0.15">20 mV</text>
<line x1="1568" y1="2495.5" x2="1615" y2="2495.5" stroke="#0a0a0a" stroke-width="2.5"/>
<path d="M1652 2495.5 L1608 2484.5 L1608 2506.5 Z" fill="#0a0a0a"/>
<line x1="1725" y1="2495.5" x2="1765" y2="2495.5" stroke="#0a0a0a" stroke-width="2.5"/>
<path d="M1687 2495.5 L1731 2484.5 L1731 2506.5 Z" fill="#0a0a0a"/>
<line x1="1582" y1="2696" x2="1650" y2="2696" stroke="#0a0a0a" stroke-width="5.5"/>
<line x1="1582" y1="2742.5" x2="1650" y2="2742.5" stroke="#ff0a0a" stroke-width="5.5"/>
<text x="1662" y="2708" font-size="36" text-anchor="start" fill="#0a0a0a" stroke="#fff" stroke-width="0.15">1st</text>
<text x="1662" y="2754" font-size="36" text-anchor="start" fill="#0a0a0a" stroke="#fff" stroke-width="0.15">2000th</text>
</svg>
</body></html>
